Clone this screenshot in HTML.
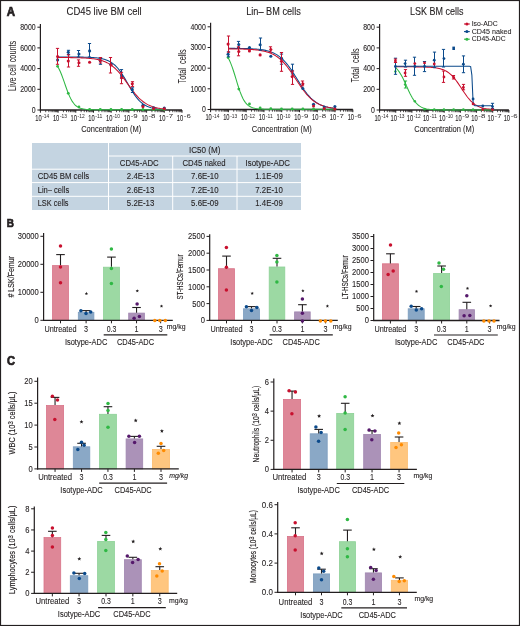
<!DOCTYPE html>
<html><head><meta charset="utf-8"><title>Figure</title>
<style>
html,body{margin:0;padding:0;background:#fff;width:520px;height:626px;overflow:hidden;}
svg{display:block;will-change:transform;}
text{font-family:"Liberation Sans",sans-serif;fill:#231f20;stroke:#231f20;stroke-width:0.1px;white-space:pre;}
</style></head><body>
<svg width="520" height="626" viewBox="0 0 520 626">
<rect x="0" y="0" width="520" height="626" fill="#ffffff"/>
<text x="6.8" y="15.6" font-size="12" textLength="8.3" lengthAdjust="spacingAndGlyphs" font-weight="bold" style="stroke-width:0.7px">A</text>
<line x1="40.4" y1="24" x2="40.4" y2="110.6" stroke="#231f20" stroke-width="1.2"/>
<line x1="37.4" y1="27.2" x2="40.4" y2="27.2" stroke="#231f20" stroke-width="1"/>
<text x="35.6" y="29.9" font-size="8.3" text-anchor="end" textLength="15.4" lengthAdjust="spacingAndGlyphs">8000</text>
<line x1="37.4" y1="47.9" x2="40.4" y2="47.9" stroke="#231f20" stroke-width="1"/>
<text x="35.6" y="50.6" font-size="8.3" text-anchor="end" textLength="15.4" lengthAdjust="spacingAndGlyphs">6000</text>
<line x1="37.4" y1="68.6" x2="40.4" y2="68.6" stroke="#231f20" stroke-width="1"/>
<text x="35.6" y="71.3" font-size="8.3" text-anchor="end" textLength="15.4" lengthAdjust="spacingAndGlyphs">4000</text>
<line x1="37.4" y1="89.3" x2="40.4" y2="89.3" stroke="#231f20" stroke-width="1"/>
<text x="35.6" y="92" font-size="8.3" text-anchor="end" textLength="15.4" lengthAdjust="spacingAndGlyphs">2000</text>
<line x1="37.4" y1="110" x2="40.4" y2="110" stroke="#231f20" stroke-width="1"/>
<text x="35.6" y="112.7" font-size="8.3" text-anchor="end" textLength="3.85" lengthAdjust="spacingAndGlyphs">0</text>
<line x1="39.8" y1="110" x2="182" y2="110" stroke="#231f20" stroke-width="1.3"/>
<line x1="40.4" y1="110" x2="40.4" y2="112.7" stroke="#231f20" stroke-width="1"/>
<line x1="45.73" y1="110" x2="45.73" y2="112.2" stroke="#231f20" stroke-width="0.8"/>
<line x1="48.85" y1="110" x2="48.85" y2="112.2" stroke="#231f20" stroke-width="0.8"/>
<line x1="51.06" y1="110" x2="51.06" y2="112.2" stroke="#231f20" stroke-width="0.8"/>
<line x1="52.77" y1="110" x2="52.77" y2="112.2" stroke="#231f20" stroke-width="0.8"/>
<line x1="54.17" y1="110" x2="54.17" y2="112.2" stroke="#231f20" stroke-width="0.8"/>
<line x1="55.36" y1="110" x2="55.36" y2="112.2" stroke="#231f20" stroke-width="0.8"/>
<line x1="56.38" y1="110" x2="56.38" y2="112.2" stroke="#231f20" stroke-width="0.8"/>
<line x1="57.29" y1="110" x2="57.29" y2="112.2" stroke="#231f20" stroke-width="0.8"/>
<text x="35.2" y="120.9" font-size="8.2" textLength="6.4" lengthAdjust="spacingAndGlyphs">10</text>
<text x="42.2" y="118.2" font-size="4.9" textLength="7.0" lengthAdjust="spacingAndGlyphs" style="stroke-width:0px">-14</text>
<line x1="58.1" y1="110" x2="58.1" y2="112.7" stroke="#231f20" stroke-width="1"/>
<line x1="63.43" y1="110" x2="63.43" y2="112.2" stroke="#231f20" stroke-width="0.8"/>
<line x1="66.55" y1="110" x2="66.55" y2="112.2" stroke="#231f20" stroke-width="0.8"/>
<line x1="68.76" y1="110" x2="68.76" y2="112.2" stroke="#231f20" stroke-width="0.8"/>
<line x1="70.47" y1="110" x2="70.47" y2="112.2" stroke="#231f20" stroke-width="0.8"/>
<line x1="71.87" y1="110" x2="71.87" y2="112.2" stroke="#231f20" stroke-width="0.8"/>
<line x1="73.06" y1="110" x2="73.06" y2="112.2" stroke="#231f20" stroke-width="0.8"/>
<line x1="74.08" y1="110" x2="74.08" y2="112.2" stroke="#231f20" stroke-width="0.8"/>
<line x1="74.99" y1="110" x2="74.99" y2="112.2" stroke="#231f20" stroke-width="0.8"/>
<text x="52.9" y="120.9" font-size="8.2" textLength="6.4" lengthAdjust="spacingAndGlyphs">10</text>
<text x="59.9" y="118.2" font-size="4.9" textLength="7.0" lengthAdjust="spacingAndGlyphs" style="stroke-width:0px">-13</text>
<line x1="75.8" y1="110" x2="75.8" y2="112.7" stroke="#231f20" stroke-width="1"/>
<line x1="81.13" y1="110" x2="81.13" y2="112.2" stroke="#231f20" stroke-width="0.8"/>
<line x1="84.25" y1="110" x2="84.25" y2="112.2" stroke="#231f20" stroke-width="0.8"/>
<line x1="86.46" y1="110" x2="86.46" y2="112.2" stroke="#231f20" stroke-width="0.8"/>
<line x1="88.17" y1="110" x2="88.17" y2="112.2" stroke="#231f20" stroke-width="0.8"/>
<line x1="89.57" y1="110" x2="89.57" y2="112.2" stroke="#231f20" stroke-width="0.8"/>
<line x1="90.76" y1="110" x2="90.76" y2="112.2" stroke="#231f20" stroke-width="0.8"/>
<line x1="91.78" y1="110" x2="91.78" y2="112.2" stroke="#231f20" stroke-width="0.8"/>
<line x1="92.69" y1="110" x2="92.69" y2="112.2" stroke="#231f20" stroke-width="0.8"/>
<text x="70.6" y="120.9" font-size="8.2" textLength="6.4" lengthAdjust="spacingAndGlyphs">10</text>
<text x="77.6" y="118.2" font-size="4.9" textLength="7.0" lengthAdjust="spacingAndGlyphs" style="stroke-width:0px">-12</text>
<line x1="93.5" y1="110" x2="93.5" y2="112.7" stroke="#231f20" stroke-width="1"/>
<line x1="98.83" y1="110" x2="98.83" y2="112.2" stroke="#231f20" stroke-width="0.8"/>
<line x1="101.95" y1="110" x2="101.95" y2="112.2" stroke="#231f20" stroke-width="0.8"/>
<line x1="104.16" y1="110" x2="104.16" y2="112.2" stroke="#231f20" stroke-width="0.8"/>
<line x1="105.87" y1="110" x2="105.87" y2="112.2" stroke="#231f20" stroke-width="0.8"/>
<line x1="107.27" y1="110" x2="107.27" y2="112.2" stroke="#231f20" stroke-width="0.8"/>
<line x1="108.46" y1="110" x2="108.46" y2="112.2" stroke="#231f20" stroke-width="0.8"/>
<line x1="109.48" y1="110" x2="109.48" y2="112.2" stroke="#231f20" stroke-width="0.8"/>
<line x1="110.39" y1="110" x2="110.39" y2="112.2" stroke="#231f20" stroke-width="0.8"/>
<text x="88.3" y="120.9" font-size="8.2" textLength="6.4" lengthAdjust="spacingAndGlyphs">10</text>
<text x="95.3" y="118.2" font-size="4.9" textLength="7.0" lengthAdjust="spacingAndGlyphs" style="stroke-width:0px">-11</text>
<line x1="111.2" y1="110" x2="111.2" y2="112.7" stroke="#231f20" stroke-width="1"/>
<line x1="116.53" y1="110" x2="116.53" y2="112.2" stroke="#231f20" stroke-width="0.8"/>
<line x1="119.65" y1="110" x2="119.65" y2="112.2" stroke="#231f20" stroke-width="0.8"/>
<line x1="121.86" y1="110" x2="121.86" y2="112.2" stroke="#231f20" stroke-width="0.8"/>
<line x1="123.57" y1="110" x2="123.57" y2="112.2" stroke="#231f20" stroke-width="0.8"/>
<line x1="124.97" y1="110" x2="124.97" y2="112.2" stroke="#231f20" stroke-width="0.8"/>
<line x1="126.16" y1="110" x2="126.16" y2="112.2" stroke="#231f20" stroke-width="0.8"/>
<line x1="127.18" y1="110" x2="127.18" y2="112.2" stroke="#231f20" stroke-width="0.8"/>
<line x1="128.09" y1="110" x2="128.09" y2="112.2" stroke="#231f20" stroke-width="0.8"/>
<text x="106" y="120.9" font-size="8.2" textLength="6.4" lengthAdjust="spacingAndGlyphs">10</text>
<text x="113" y="118.2" font-size="4.9" textLength="7.0" lengthAdjust="spacingAndGlyphs" style="stroke-width:0px">-10</text>
<line x1="128.9" y1="110" x2="128.9" y2="112.7" stroke="#231f20" stroke-width="1"/>
<line x1="134.23" y1="110" x2="134.23" y2="112.2" stroke="#231f20" stroke-width="0.8"/>
<line x1="137.35" y1="110" x2="137.35" y2="112.2" stroke="#231f20" stroke-width="0.8"/>
<line x1="139.56" y1="110" x2="139.56" y2="112.2" stroke="#231f20" stroke-width="0.8"/>
<line x1="141.27" y1="110" x2="141.27" y2="112.2" stroke="#231f20" stroke-width="0.8"/>
<line x1="142.67" y1="110" x2="142.67" y2="112.2" stroke="#231f20" stroke-width="0.8"/>
<line x1="143.86" y1="110" x2="143.86" y2="112.2" stroke="#231f20" stroke-width="0.8"/>
<line x1="144.88" y1="110" x2="144.88" y2="112.2" stroke="#231f20" stroke-width="0.8"/>
<line x1="145.79" y1="110" x2="145.79" y2="112.2" stroke="#231f20" stroke-width="0.8"/>
<text x="123.7" y="120.9" font-size="8.2" textLength="6.4" lengthAdjust="spacingAndGlyphs">10</text>
<text x="130.7" y="118.2" font-size="4.9" textLength="7.0" lengthAdjust="spacingAndGlyphs" style="stroke-width:0px">-9</text>
<line x1="146.6" y1="110" x2="146.6" y2="112.7" stroke="#231f20" stroke-width="1"/>
<line x1="151.93" y1="110" x2="151.93" y2="112.2" stroke="#231f20" stroke-width="0.8"/>
<line x1="155.05" y1="110" x2="155.05" y2="112.2" stroke="#231f20" stroke-width="0.8"/>
<line x1="157.26" y1="110" x2="157.26" y2="112.2" stroke="#231f20" stroke-width="0.8"/>
<line x1="158.97" y1="110" x2="158.97" y2="112.2" stroke="#231f20" stroke-width="0.8"/>
<line x1="160.37" y1="110" x2="160.37" y2="112.2" stroke="#231f20" stroke-width="0.8"/>
<line x1="161.56" y1="110" x2="161.56" y2="112.2" stroke="#231f20" stroke-width="0.8"/>
<line x1="162.58" y1="110" x2="162.58" y2="112.2" stroke="#231f20" stroke-width="0.8"/>
<line x1="163.49" y1="110" x2="163.49" y2="112.2" stroke="#231f20" stroke-width="0.8"/>
<text x="141.4" y="120.9" font-size="8.2" textLength="6.4" lengthAdjust="spacingAndGlyphs">10</text>
<text x="148.4" y="118.2" font-size="4.9" textLength="7.0" lengthAdjust="spacingAndGlyphs" style="stroke-width:0px">-8</text>
<line x1="164.3" y1="110" x2="164.3" y2="112.7" stroke="#231f20" stroke-width="1"/>
<line x1="169.63" y1="110" x2="169.63" y2="112.2" stroke="#231f20" stroke-width="0.8"/>
<line x1="172.75" y1="110" x2="172.75" y2="112.2" stroke="#231f20" stroke-width="0.8"/>
<line x1="174.96" y1="110" x2="174.96" y2="112.2" stroke="#231f20" stroke-width="0.8"/>
<line x1="176.67" y1="110" x2="176.67" y2="112.2" stroke="#231f20" stroke-width="0.8"/>
<line x1="178.07" y1="110" x2="178.07" y2="112.2" stroke="#231f20" stroke-width="0.8"/>
<line x1="179.26" y1="110" x2="179.26" y2="112.2" stroke="#231f20" stroke-width="0.8"/>
<line x1="180.28" y1="110" x2="180.28" y2="112.2" stroke="#231f20" stroke-width="0.8"/>
<line x1="181.19" y1="110" x2="181.19" y2="112.2" stroke="#231f20" stroke-width="0.8"/>
<text x="159.1" y="120.9" font-size="8.2" textLength="6.4" lengthAdjust="spacingAndGlyphs">10</text>
<text x="166.1" y="118.2" font-size="4.9" textLength="7.0" lengthAdjust="spacingAndGlyphs" style="stroke-width:0px">-7</text>
<line x1="182" y1="110" x2="182" y2="112.7" stroke="#231f20" stroke-width="1"/>
<text x="176.8" y="120.9" font-size="8.2" textLength="6.4" lengthAdjust="spacingAndGlyphs">10</text>
<text x="183.8" y="118.2" font-size="4.9" textLength="7.0" lengthAdjust="spacingAndGlyphs" style="stroke-width:0px">-6</text>
<text x="111.2" y="132.3" font-size="9.9" text-anchor="middle" textLength="60" lengthAdjust="spacingAndGlyphs">Concentration (M)</text>
<text x="104.15" y="14.7" font-size="10.1" text-anchor="middle" textLength="75.1" lengthAdjust="spacingAndGlyphs" style="stroke-width:0.1px">CD45 live BM cell</text>
<text x="0" y="0" font-size="10.5" text-anchor="middle" transform="translate(15.5 65.85) rotate(-90)" textLength="50.3" lengthAdjust="spacingAndGlyphs" style="stroke-width:0.02px">Live cell counts</text>
<path d="M57.6,57 L58.93,57.01 L60.27,57.01 L61.6,57.01 L62.94,57.01 L64.27,57.01 L65.6,57.01 L66.94,57.02 L68.27,57.02 L69.6,57.02 L70.94,57.03 L72.27,57.03 L73.61,57.04 L74.94,57.05 L76.27,57.06 L77.61,57.07 L78.94,57.08 L80.27,57.1 L81.61,57.12 L82.94,57.14 L84.28,57.17 L85.61,57.2 L86.94,57.24 L88.28,57.28 L89.61,57.34 L90.94,57.4 L92.28,57.48 L93.61,57.57 L94.95,57.68 L96.28,57.81 L97.61,57.96 L98.95,58.14 L100.28,58.36 L101.61,58.61 L102.95,58.91 L104.28,59.27 L105.62,59.69 L106.95,60.17 L108.28,60.75 L109.62,61.41 L110.95,62.18 L112.28,63.07 L113.62,64.09 L114.95,65.24 L116.29,66.55 L117.62,68.02 L118.95,69.64 L120.29,71.42 L121.62,73.35 L122.95,75.42 L124.29,77.6 L125.62,79.87 L126.96,82.19 L128.29,84.53 L129.62,86.86 L130.96,89.14 L132.29,91.33 L133.62,93.41 L134.96,95.36 L136.29,97.16 L137.62,98.8 L138.96,100.28 L140.29,101.61 L141.63,102.79 L142.96,103.82 L144.29,104.72 L145.63,105.51 L146.96,106.18 L148.3,106.76 L149.63,107.26 L150.96,107.69 L152.3,108.05 L153.63,108.35 L154.96,108.61 L156.3,108.83 L157.63,109.02 L158.97,109.18 L160.3,109.31 L161.63,109.42 L162.97,109.51 L164.3,109.59" fill="none" stroke="#0b4a8b" stroke-width="1.05"/>
<path d="M57.6,57.53 L58.93,57.53 L60.27,57.54 L61.6,57.54 L62.94,57.55 L64.27,57.56 L65.6,57.57 L66.94,57.58 L68.27,57.59 L69.6,57.6 L70.94,57.62 L72.27,57.64 L73.61,57.66 L74.94,57.68 L76.27,57.71 L77.61,57.74 L78.94,57.78 L80.27,57.82 L81.61,57.87 L82.94,57.93 L84.28,58 L85.61,58.07 L86.94,58.16 L88.28,58.26 L89.61,58.38 L90.94,58.51 L92.28,58.66 L93.61,58.83 L94.95,59.03 L96.28,59.26 L97.61,59.52 L98.95,59.82 L100.28,60.16 L101.61,60.54 L102.95,60.98 L104.28,61.47 L105.62,62.03 L106.95,62.66 L108.28,63.37 L109.62,64.15 L110.95,65.03 L112.28,66 L113.62,67.07 L114.95,68.24 L116.29,69.52 L117.62,70.9 L118.95,72.37 L120.29,73.95 L121.62,75.6 L122.95,77.34 L124.29,79.13 L125.62,80.97 L126.96,82.84 L128.29,84.72 L129.62,86.59 L130.96,88.43 L132.29,90.22 L133.62,91.95 L134.96,93.61 L136.29,95.18 L137.62,96.65 L138.96,98.02 L140.29,99.3 L141.63,100.46 L142.96,101.53 L144.29,102.5 L145.63,103.37 L146.96,104.16 L148.3,104.86 L149.63,105.49 L150.96,106.04 L152.3,106.54 L153.63,106.97 L154.96,107.36 L156.3,107.69 L157.63,107.99 L158.97,108.25 L160.3,108.48 L161.63,108.67 L162.97,108.85 L164.3,109" fill="none" stroke="#c8102e" stroke-width="1.05"/>
<path d="M57.6,66.34 L58.93,68.72 L60.27,71.54 L61.6,74.77 L62.94,78.33 L64.27,82.12 L65.6,85.96 L66.94,89.71 L68.27,93.22 L69.6,96.37 L70.94,99.1 L72.27,101.39 L73.61,103.27 L74.94,104.78 L76.27,105.97 L77.61,106.89 L78.94,107.6 L80.27,108.15 L81.61,108.56 L82.94,108.87 L84.28,109.1 L85.61,109.28 L86.94,109.41 L88.28,109.51 L89.61,109.58 L90.94,109.64 L92.28,109.68 L93.61,109.71 L94.95,109.73 L96.28,109.75 L97.61,109.76 L98.95,109.77 L100.28,109.78 L101.61,109.78 L102.95,109.79 L104.28,109.79 L105.62,109.79 L106.95,109.8 L108.28,109.8 L109.62,109.8 L110.95,109.8 L112.28,109.8 L113.62,109.8 L114.95,109.8 L116.29,109.8 L117.62,109.8 L118.95,109.8 L120.29,109.8 L121.62,109.8 L122.95,109.8 L124.29,109.8 L125.62,109.8 L126.96,109.8 L128.29,109.8 L129.62,109.8 L130.96,109.8 L132.29,109.8 L133.62,109.8 L134.96,109.8 L136.29,109.8 L137.62,109.8 L138.96,109.8 L140.29,109.8 L141.63,109.8 L142.96,109.8 L144.29,109.8 L145.63,109.8 L146.96,109.8 L148.3,109.8 L149.63,109.8 L150.96,109.8 L152.3,109.8 L153.63,109.8 L154.96,109.8 L156.3,109.8 L157.63,109.8 L158.97,109.8 L160.3,109.8 L161.63,109.8 L162.97,109.8 L164.3,109.8" fill="none" stroke="#2fb844" stroke-width="1.05"/>
<circle cx="57.6" cy="66.3" r="1.4" fill="#2fb844"/>
<circle cx="68.27" cy="93.3" r="1.4" fill="#2fb844"/>
<circle cx="78.94" cy="107" r="1.4" fill="#2fb844"/>
<circle cx="89.61" cy="109.3" r="1.4" fill="#2fb844"/>
<circle cx="100.28" cy="109.5" r="1.4" fill="#2fb844"/>
<circle cx="110.95" cy="109.5" r="1.4" fill="#2fb844"/>
<circle cx="121.62" cy="109.5" r="1.4" fill="#2fb844"/>
<circle cx="132.29" cy="109.5" r="1.4" fill="#2fb844"/>
<circle cx="142.96" cy="109.5" r="1.4" fill="#2fb844"/>
<circle cx="153.63" cy="109.5" r="1.4" fill="#2fb844"/>
<circle cx="164.3" cy="109.5" r="1.4" fill="#2fb844"/>
<circle cx="57.6" cy="59.9" r="1.55" fill="#0b4a8b"/>
<line x1="68.5" y1="50.3" x2="68.5" y2="54.5" stroke="#0b4a8b" stroke-width="1"/>
<line x1="66.9" y1="50.3" x2="70.1" y2="50.3" stroke="#0b4a8b" stroke-width="1"/>
<line x1="66.9" y1="54.5" x2="70.1" y2="54.5" stroke="#0b4a8b" stroke-width="1"/>
<circle cx="68.27" cy="52.2" r="1.55" fill="#0b4a8b"/>
<line x1="78.5" y1="50.5" x2="78.5" y2="57" stroke="#0b4a8b" stroke-width="1"/>
<line x1="76.9" y1="50.5" x2="80.1" y2="50.5" stroke="#0b4a8b" stroke-width="1"/>
<line x1="76.9" y1="57" x2="80.1" y2="57" stroke="#0b4a8b" stroke-width="1"/>
<circle cx="78.94" cy="54" r="1.55" fill="#0b4a8b"/>
<line x1="89.5" y1="43.5" x2="89.5" y2="57" stroke="#0b4a8b" stroke-width="1"/>
<line x1="87.9" y1="43.5" x2="91.1" y2="43.5" stroke="#0b4a8b" stroke-width="1"/>
<line x1="87.9" y1="57" x2="91.1" y2="57" stroke="#0b4a8b" stroke-width="1"/>
<circle cx="89.61" cy="50.9" r="1.55" fill="#0b4a8b"/>
<line x1="100.5" y1="57.6" x2="100.5" y2="64.3" stroke="#0b4a8b" stroke-width="1"/>
<line x1="98.9" y1="57.6" x2="102.1" y2="57.6" stroke="#0b4a8b" stroke-width="1"/>
<line x1="98.9" y1="64.3" x2="102.1" y2="64.3" stroke="#0b4a8b" stroke-width="1"/>
<circle cx="100.28" cy="60.7" r="1.55" fill="#0b4a8b"/>
<circle cx="110.95" cy="64.2" r="1.55" fill="#0b4a8b"/>
<line x1="121.5" y1="69.6" x2="121.5" y2="78" stroke="#0b4a8b" stroke-width="1"/>
<line x1="119.9" y1="69.6" x2="123.1" y2="69.6" stroke="#0b4a8b" stroke-width="1"/>
<line x1="119.9" y1="78" x2="123.1" y2="78" stroke="#0b4a8b" stroke-width="1"/>
<circle cx="121.62" cy="75.7" r="1.55" fill="#0b4a8b"/>
<line x1="132.5" y1="87.8" x2="132.5" y2="92.5" stroke="#0b4a8b" stroke-width="1"/>
<line x1="130.9" y1="87.8" x2="134.1" y2="87.8" stroke="#0b4a8b" stroke-width="1"/>
<line x1="130.9" y1="92.5" x2="134.1" y2="92.5" stroke="#0b4a8b" stroke-width="1"/>
<circle cx="132.29" cy="89.8" r="1.55" fill="#0b4a8b"/>
<circle cx="142.96" cy="105.3" r="1.55" fill="#0b4a8b"/>
<circle cx="153.63" cy="107.8" r="1.55" fill="#0b4a8b"/>
<circle cx="164.3" cy="108" r="1.55" fill="#0b4a8b"/>
<line x1="57.5" y1="48.4" x2="57.5" y2="64.3" stroke="#c8102e" stroke-width="1"/>
<line x1="55.9" y1="48.4" x2="59.1" y2="48.4" stroke="#c8102e" stroke-width="1"/>
<line x1="55.9" y1="64.3" x2="59.1" y2="64.3" stroke="#c8102e" stroke-width="1"/>
<circle cx="57.6" cy="56.5" r="1.55" fill="#c8102e"/>
<line x1="68.5" y1="54.9" x2="68.5" y2="67" stroke="#c8102e" stroke-width="1"/>
<line x1="66.9" y1="54.9" x2="70.1" y2="54.9" stroke="#c8102e" stroke-width="1"/>
<line x1="66.9" y1="67" x2="70.1" y2="67" stroke="#c8102e" stroke-width="1"/>
<circle cx="68.27" cy="61" r="1.55" fill="#c8102e"/>
<line x1="78.5" y1="59.9" x2="78.5" y2="66.3" stroke="#c8102e" stroke-width="1"/>
<line x1="76.9" y1="59.9" x2="80.1" y2="59.9" stroke="#c8102e" stroke-width="1"/>
<line x1="76.9" y1="66.3" x2="80.1" y2="66.3" stroke="#c8102e" stroke-width="1"/>
<circle cx="78.94" cy="62.7" r="1.55" fill="#c8102e"/>
<circle cx="89.61" cy="62.3" r="1.55" fill="#c8102e"/>
<line x1="100.5" y1="57.6" x2="100.5" y2="63" stroke="#c8102e" stroke-width="1"/>
<line x1="98.9" y1="57.6" x2="102.1" y2="57.6" stroke="#c8102e" stroke-width="1"/>
<line x1="98.9" y1="63" x2="102.1" y2="63" stroke="#c8102e" stroke-width="1"/>
<circle cx="100.28" cy="60.3" r="1.55" fill="#c8102e"/>
<line x1="110.5" y1="57.5" x2="110.5" y2="73" stroke="#c8102e" stroke-width="1"/>
<line x1="108.9" y1="57.5" x2="112.1" y2="57.5" stroke="#c8102e" stroke-width="1"/>
<line x1="108.9" y1="73" x2="112.1" y2="73" stroke="#c8102e" stroke-width="1"/>
<circle cx="110.95" cy="64.9" r="1.55" fill="#c8102e"/>
<line x1="121.5" y1="72.3" x2="121.5" y2="83.7" stroke="#c8102e" stroke-width="1"/>
<line x1="119.9" y1="72.3" x2="123.1" y2="72.3" stroke="#c8102e" stroke-width="1"/>
<line x1="119.9" y1="83.7" x2="123.1" y2="83.7" stroke="#c8102e" stroke-width="1"/>
<circle cx="121.62" cy="77.7" r="1.55" fill="#c8102e"/>
<line x1="132.5" y1="81.7" x2="132.5" y2="86.4" stroke="#c8102e" stroke-width="1"/>
<line x1="130.9" y1="81.7" x2="134.1" y2="81.7" stroke="#c8102e" stroke-width="1"/>
<line x1="130.9" y1="86.4" x2="134.1" y2="86.4" stroke="#c8102e" stroke-width="1"/>
<circle cx="132.29" cy="83.7" r="1.55" fill="#c8102e"/>
<circle cx="142.96" cy="106.6" r="1.55" fill="#c8102e"/>
<circle cx="153.63" cy="108.6" r="1.55" fill="#c8102e"/>
<circle cx="164.3" cy="108.8" r="1.55" fill="#c8102e"/>
<line x1="210.6" y1="22.8" x2="210.6" y2="110.1" stroke="#231f20" stroke-width="1.2"/>
<line x1="207.6" y1="26.8" x2="210.6" y2="26.8" stroke="#231f20" stroke-width="1"/>
<text x="205.8" y="29.5" font-size="8.3" text-anchor="end" textLength="15.4" lengthAdjust="spacingAndGlyphs">4000</text>
<line x1="207.6" y1="47.5" x2="210.6" y2="47.5" stroke="#231f20" stroke-width="1"/>
<text x="205.8" y="50.2" font-size="8.3" text-anchor="end" textLength="15.4" lengthAdjust="spacingAndGlyphs">3000</text>
<line x1="207.6" y1="68.2" x2="210.6" y2="68.2" stroke="#231f20" stroke-width="1"/>
<text x="205.8" y="70.9" font-size="8.3" text-anchor="end" textLength="15.4" lengthAdjust="spacingAndGlyphs">2000</text>
<line x1="207.6" y1="88.8" x2="210.6" y2="88.8" stroke="#231f20" stroke-width="1"/>
<text x="205.8" y="91.5" font-size="8.3" text-anchor="end" textLength="15.4" lengthAdjust="spacingAndGlyphs">1000</text>
<line x1="207.6" y1="109.5" x2="210.6" y2="109.5" stroke="#231f20" stroke-width="1"/>
<text x="205.8" y="112.2" font-size="8.3" text-anchor="end" textLength="3.85" lengthAdjust="spacingAndGlyphs">0</text>
<line x1="210" y1="109.5" x2="352.84" y2="109.5" stroke="#231f20" stroke-width="1.3"/>
<line x1="210.6" y1="109.5" x2="210.6" y2="112.2" stroke="#231f20" stroke-width="1"/>
<line x1="215.95" y1="109.5" x2="215.95" y2="111.7" stroke="#231f20" stroke-width="0.8"/>
<line x1="219.08" y1="109.5" x2="219.08" y2="111.7" stroke="#231f20" stroke-width="0.8"/>
<line x1="221.3" y1="109.5" x2="221.3" y2="111.7" stroke="#231f20" stroke-width="0.8"/>
<line x1="223.03" y1="109.5" x2="223.03" y2="111.7" stroke="#231f20" stroke-width="0.8"/>
<line x1="224.44" y1="109.5" x2="224.44" y2="111.7" stroke="#231f20" stroke-width="0.8"/>
<line x1="225.63" y1="109.5" x2="225.63" y2="111.7" stroke="#231f20" stroke-width="0.8"/>
<line x1="226.66" y1="109.5" x2="226.66" y2="111.7" stroke="#231f20" stroke-width="0.8"/>
<line x1="227.57" y1="109.5" x2="227.57" y2="111.7" stroke="#231f20" stroke-width="0.8"/>
<text x="205.4" y="120.4" font-size="8.2" textLength="6.4" lengthAdjust="spacingAndGlyphs">10</text>
<text x="212.4" y="117.7" font-size="4.9" textLength="7.0" lengthAdjust="spacingAndGlyphs" style="stroke-width:0px">-14</text>
<line x1="228.38" y1="109.5" x2="228.38" y2="112.2" stroke="#231f20" stroke-width="1"/>
<line x1="233.73" y1="109.5" x2="233.73" y2="111.7" stroke="#231f20" stroke-width="0.8"/>
<line x1="236.86" y1="109.5" x2="236.86" y2="111.7" stroke="#231f20" stroke-width="0.8"/>
<line x1="239.08" y1="109.5" x2="239.08" y2="111.7" stroke="#231f20" stroke-width="0.8"/>
<line x1="240.81" y1="109.5" x2="240.81" y2="111.7" stroke="#231f20" stroke-width="0.8"/>
<line x1="242.22" y1="109.5" x2="242.22" y2="111.7" stroke="#231f20" stroke-width="0.8"/>
<line x1="243.41" y1="109.5" x2="243.41" y2="111.7" stroke="#231f20" stroke-width="0.8"/>
<line x1="244.44" y1="109.5" x2="244.44" y2="111.7" stroke="#231f20" stroke-width="0.8"/>
<line x1="245.35" y1="109.5" x2="245.35" y2="111.7" stroke="#231f20" stroke-width="0.8"/>
<text x="223.18" y="120.4" font-size="8.2" textLength="6.4" lengthAdjust="spacingAndGlyphs">10</text>
<text x="230.18" y="117.7" font-size="4.9" textLength="7.0" lengthAdjust="spacingAndGlyphs" style="stroke-width:0px">-13</text>
<line x1="246.16" y1="109.5" x2="246.16" y2="112.2" stroke="#231f20" stroke-width="1"/>
<line x1="251.51" y1="109.5" x2="251.51" y2="111.7" stroke="#231f20" stroke-width="0.8"/>
<line x1="254.64" y1="109.5" x2="254.64" y2="111.7" stroke="#231f20" stroke-width="0.8"/>
<line x1="256.86" y1="109.5" x2="256.86" y2="111.7" stroke="#231f20" stroke-width="0.8"/>
<line x1="258.59" y1="109.5" x2="258.59" y2="111.7" stroke="#231f20" stroke-width="0.8"/>
<line x1="260" y1="109.5" x2="260" y2="111.7" stroke="#231f20" stroke-width="0.8"/>
<line x1="261.19" y1="109.5" x2="261.19" y2="111.7" stroke="#231f20" stroke-width="0.8"/>
<line x1="262.22" y1="109.5" x2="262.22" y2="111.7" stroke="#231f20" stroke-width="0.8"/>
<line x1="263.13" y1="109.5" x2="263.13" y2="111.7" stroke="#231f20" stroke-width="0.8"/>
<text x="240.96" y="120.4" font-size="8.2" textLength="6.4" lengthAdjust="spacingAndGlyphs">10</text>
<text x="247.96" y="117.7" font-size="4.9" textLength="7.0" lengthAdjust="spacingAndGlyphs" style="stroke-width:0px">-12</text>
<line x1="263.94" y1="109.5" x2="263.94" y2="112.2" stroke="#231f20" stroke-width="1"/>
<line x1="269.29" y1="109.5" x2="269.29" y2="111.7" stroke="#231f20" stroke-width="0.8"/>
<line x1="272.42" y1="109.5" x2="272.42" y2="111.7" stroke="#231f20" stroke-width="0.8"/>
<line x1="274.64" y1="109.5" x2="274.64" y2="111.7" stroke="#231f20" stroke-width="0.8"/>
<line x1="276.37" y1="109.5" x2="276.37" y2="111.7" stroke="#231f20" stroke-width="0.8"/>
<line x1="277.78" y1="109.5" x2="277.78" y2="111.7" stroke="#231f20" stroke-width="0.8"/>
<line x1="278.97" y1="109.5" x2="278.97" y2="111.7" stroke="#231f20" stroke-width="0.8"/>
<line x1="280" y1="109.5" x2="280" y2="111.7" stroke="#231f20" stroke-width="0.8"/>
<line x1="280.91" y1="109.5" x2="280.91" y2="111.7" stroke="#231f20" stroke-width="0.8"/>
<text x="258.74" y="120.4" font-size="8.2" textLength="6.4" lengthAdjust="spacingAndGlyphs">10</text>
<text x="265.74" y="117.7" font-size="4.9" textLength="7.0" lengthAdjust="spacingAndGlyphs" style="stroke-width:0px">-11</text>
<line x1="281.72" y1="109.5" x2="281.72" y2="112.2" stroke="#231f20" stroke-width="1"/>
<line x1="287.07" y1="109.5" x2="287.07" y2="111.7" stroke="#231f20" stroke-width="0.8"/>
<line x1="290.2" y1="109.5" x2="290.2" y2="111.7" stroke="#231f20" stroke-width="0.8"/>
<line x1="292.42" y1="109.5" x2="292.42" y2="111.7" stroke="#231f20" stroke-width="0.8"/>
<line x1="294.15" y1="109.5" x2="294.15" y2="111.7" stroke="#231f20" stroke-width="0.8"/>
<line x1="295.56" y1="109.5" x2="295.56" y2="111.7" stroke="#231f20" stroke-width="0.8"/>
<line x1="296.75" y1="109.5" x2="296.75" y2="111.7" stroke="#231f20" stroke-width="0.8"/>
<line x1="297.78" y1="109.5" x2="297.78" y2="111.7" stroke="#231f20" stroke-width="0.8"/>
<line x1="298.69" y1="109.5" x2="298.69" y2="111.7" stroke="#231f20" stroke-width="0.8"/>
<text x="276.52" y="120.4" font-size="8.2" textLength="6.4" lengthAdjust="spacingAndGlyphs">10</text>
<text x="283.52" y="117.7" font-size="4.9" textLength="7.0" lengthAdjust="spacingAndGlyphs" style="stroke-width:0px">-10</text>
<line x1="299.5" y1="109.5" x2="299.5" y2="112.2" stroke="#231f20" stroke-width="1"/>
<line x1="304.85" y1="109.5" x2="304.85" y2="111.7" stroke="#231f20" stroke-width="0.8"/>
<line x1="307.98" y1="109.5" x2="307.98" y2="111.7" stroke="#231f20" stroke-width="0.8"/>
<line x1="310.2" y1="109.5" x2="310.2" y2="111.7" stroke="#231f20" stroke-width="0.8"/>
<line x1="311.93" y1="109.5" x2="311.93" y2="111.7" stroke="#231f20" stroke-width="0.8"/>
<line x1="313.34" y1="109.5" x2="313.34" y2="111.7" stroke="#231f20" stroke-width="0.8"/>
<line x1="314.53" y1="109.5" x2="314.53" y2="111.7" stroke="#231f20" stroke-width="0.8"/>
<line x1="315.56" y1="109.5" x2="315.56" y2="111.7" stroke="#231f20" stroke-width="0.8"/>
<line x1="316.47" y1="109.5" x2="316.47" y2="111.7" stroke="#231f20" stroke-width="0.8"/>
<text x="294.3" y="120.4" font-size="8.2" textLength="6.4" lengthAdjust="spacingAndGlyphs">10</text>
<text x="301.3" y="117.7" font-size="4.9" textLength="7.0" lengthAdjust="spacingAndGlyphs" style="stroke-width:0px">-9</text>
<line x1="317.28" y1="109.5" x2="317.28" y2="112.2" stroke="#231f20" stroke-width="1"/>
<line x1="322.63" y1="109.5" x2="322.63" y2="111.7" stroke="#231f20" stroke-width="0.8"/>
<line x1="325.76" y1="109.5" x2="325.76" y2="111.7" stroke="#231f20" stroke-width="0.8"/>
<line x1="327.98" y1="109.5" x2="327.98" y2="111.7" stroke="#231f20" stroke-width="0.8"/>
<line x1="329.71" y1="109.5" x2="329.71" y2="111.7" stroke="#231f20" stroke-width="0.8"/>
<line x1="331.12" y1="109.5" x2="331.12" y2="111.7" stroke="#231f20" stroke-width="0.8"/>
<line x1="332.31" y1="109.5" x2="332.31" y2="111.7" stroke="#231f20" stroke-width="0.8"/>
<line x1="333.34" y1="109.5" x2="333.34" y2="111.7" stroke="#231f20" stroke-width="0.8"/>
<line x1="334.25" y1="109.5" x2="334.25" y2="111.7" stroke="#231f20" stroke-width="0.8"/>
<text x="312.08" y="120.4" font-size="8.2" textLength="6.4" lengthAdjust="spacingAndGlyphs">10</text>
<text x="319.08" y="117.7" font-size="4.9" textLength="7.0" lengthAdjust="spacingAndGlyphs" style="stroke-width:0px">-8</text>
<line x1="335.06" y1="109.5" x2="335.06" y2="112.2" stroke="#231f20" stroke-width="1"/>
<line x1="340.41" y1="109.5" x2="340.41" y2="111.7" stroke="#231f20" stroke-width="0.8"/>
<line x1="343.54" y1="109.5" x2="343.54" y2="111.7" stroke="#231f20" stroke-width="0.8"/>
<line x1="345.76" y1="109.5" x2="345.76" y2="111.7" stroke="#231f20" stroke-width="0.8"/>
<line x1="347.49" y1="109.5" x2="347.49" y2="111.7" stroke="#231f20" stroke-width="0.8"/>
<line x1="348.9" y1="109.5" x2="348.9" y2="111.7" stroke="#231f20" stroke-width="0.8"/>
<line x1="350.09" y1="109.5" x2="350.09" y2="111.7" stroke="#231f20" stroke-width="0.8"/>
<line x1="351.12" y1="109.5" x2="351.12" y2="111.7" stroke="#231f20" stroke-width="0.8"/>
<line x1="352.03" y1="109.5" x2="352.03" y2="111.7" stroke="#231f20" stroke-width="0.8"/>
<text x="329.86" y="120.4" font-size="8.2" textLength="6.4" lengthAdjust="spacingAndGlyphs">10</text>
<text x="336.86" y="117.7" font-size="4.9" textLength="7.0" lengthAdjust="spacingAndGlyphs" style="stroke-width:0px">-7</text>
<line x1="352.84" y1="109.5" x2="352.84" y2="112.2" stroke="#231f20" stroke-width="1"/>
<text x="347.64" y="120.4" font-size="8.2" textLength="6.4" lengthAdjust="spacingAndGlyphs">10</text>
<text x="354.64" y="117.7" font-size="4.9" textLength="7.0" lengthAdjust="spacingAndGlyphs" style="stroke-width:0px">-6</text>
<text x="281.72" y="131.8" font-size="9.9" text-anchor="middle" textLength="60" lengthAdjust="spacingAndGlyphs">Concentration (M)</text>
<text x="273.5" y="14.9" font-size="10.1" text-anchor="middle" textLength="54.6" lengthAdjust="spacingAndGlyphs" style="stroke-width:0.1px">Lin– BM cells</text>
<text x="0" y="0" font-size="10.5" text-anchor="middle" transform="translate(185.7 66.4) rotate(-90)" textLength="34" lengthAdjust="spacingAndGlyphs" style="stroke-width:0.02px">Total  cells</text>
<path d="M228.1,48.34 L229.44,48.35 L230.77,48.35 L232.1,48.36 L233.44,48.37 L234.78,48.38 L236.11,48.4 L237.44,48.41 L238.78,48.43 L240.11,48.45 L241.45,48.47 L242.78,48.49 L244.12,48.52 L245.45,48.56 L246.79,48.59 L248.12,48.64 L249.46,48.69 L250.79,48.75 L252.13,48.82 L253.46,48.9 L254.8,48.98 L256.13,49.09 L257.47,49.21 L258.81,49.34 L260.14,49.5 L261.47,49.68 L262.81,49.88 L264.14,50.11 L265.48,50.38 L266.81,50.68 L268.15,51.03 L269.49,51.43 L270.82,51.87 L272.15,52.38 L273.49,52.96 L274.82,53.6 L276.16,54.33 L277.5,55.15 L278.83,56.06 L280.16,57.07 L281.5,58.19 L282.83,59.43 L284.17,60.78 L285.5,62.24 L286.84,63.83 L288.17,65.53 L289.51,67.33 L290.84,69.24 L292.18,71.24 L293.51,73.3 L294.85,75.42 L296.19,77.58 L297.52,79.74 L298.85,81.9 L300.19,84.03 L301.52,86.11 L302.86,88.13 L304.19,90.05 L305.53,91.88 L306.87,93.61 L308.2,95.22 L309.53,96.71 L310.87,98.09 L312.2,99.34 L313.54,100.49 L314.88,101.52 L316.21,102.46 L317.54,103.29 L318.88,104.04 L320.21,104.71 L321.55,105.3 L322.88,105.82 L324.22,106.28 L325.55,106.69 L326.89,107.04 L328.22,107.36 L329.56,107.63 L330.89,107.87 L332.23,108.08 L333.56,108.27 L334.9,108.43" fill="none" stroke="#0b4a8b" stroke-width="1.05"/>
<path d="M228.1,48.86 L229.44,48.87 L230.77,48.89 L232.1,48.9 L233.44,48.91 L234.78,48.93 L236.11,48.95 L237.44,48.97 L238.78,48.99 L240.11,49.02 L241.45,49.05 L242.78,49.09 L244.12,49.13 L245.45,49.17 L246.79,49.23 L248.12,49.29 L249.46,49.36 L250.79,49.44 L252.13,49.53 L253.46,49.63 L254.8,49.75 L256.13,49.88 L257.47,50.04 L258.81,50.21 L260.14,50.41 L261.47,50.64 L262.81,50.89 L264.14,51.18 L265.48,51.51 L266.81,51.88 L268.15,52.3 L269.49,52.78 L270.82,53.31 L272.15,53.9 L273.49,54.57 L274.82,55.31 L276.16,56.14 L277.5,57.05 L278.83,58.06 L280.16,59.17 L281.5,60.38 L282.83,61.7 L284.17,63.12 L285.5,64.65 L286.84,66.28 L288.17,68.01 L289.51,69.82 L290.84,71.71 L292.18,73.66 L293.51,75.66 L294.85,77.69 L296.19,79.74 L297.52,81.78 L298.85,83.8 L300.19,85.77 L301.52,87.69 L302.86,89.54 L304.19,91.3 L305.53,92.97 L306.87,94.54 L308.2,96.01 L309.53,97.37 L310.87,98.63 L312.2,99.78 L313.54,100.83 L314.88,101.78 L316.21,102.65 L317.54,103.43 L318.88,104.12 L320.21,104.75 L321.55,105.31 L322.88,105.8 L324.22,106.25 L325.55,106.64 L326.89,106.98 L328.22,107.29 L329.56,107.56 L330.89,107.8 L332.23,108.01 L333.56,108.19 L334.9,108.35" fill="none" stroke="#c8102e" stroke-width="1.05"/>
<path d="M228.1,57.84 L229.44,60.34 L230.77,63.33 L232.1,66.82 L233.44,70.74 L234.78,75 L236.11,79.42 L237.44,83.82 L238.78,88.03 L240.11,91.89 L241.45,95.29 L242.78,98.21 L244.12,100.63 L245.45,102.59 L246.79,104.15 L248.12,105.38 L249.46,106.33 L250.79,107.06 L252.13,107.61 L253.46,108.03 L254.8,108.35 L256.13,108.59 L257.47,108.77 L258.81,108.9 L260.14,109 L261.47,109.08 L262.81,109.14 L264.14,109.18 L265.48,109.21 L266.81,109.23 L268.15,109.25 L269.49,109.26 L270.82,109.27 L272.15,109.28 L273.49,109.28 L274.82,109.29 L276.16,109.29 L277.5,109.29 L278.83,109.3 L280.16,109.3 L281.5,109.3 L282.83,109.3 L284.17,109.3 L285.5,109.3 L286.84,109.3 L288.17,109.3 L289.51,109.3 L290.84,109.3 L292.18,109.3 L293.51,109.3 L294.85,109.3 L296.19,109.3 L297.52,109.3 L298.85,109.3 L300.19,109.3 L301.52,109.3 L302.86,109.3 L304.19,109.3 L305.53,109.3 L306.87,109.3 L308.2,109.3 L309.53,109.3 L310.87,109.3 L312.2,109.3 L313.54,109.3 L314.88,109.3 L316.21,109.3 L317.54,109.3 L318.88,109.3 L320.21,109.3 L321.55,109.3 L322.88,109.3 L324.22,109.3 L325.55,109.3 L326.89,109.3 L328.22,109.3 L329.56,109.3 L330.89,109.3 L332.23,109.3 L333.56,109.3 L334.9,109.3" fill="none" stroke="#2fb844" stroke-width="1.05"/>
<circle cx="228.1" cy="57.6" r="1.4" fill="#2fb844"/>
<circle cx="238.78" cy="89.1" r="1.4" fill="#2fb844"/>
<circle cx="249.46" cy="104" r="1.4" fill="#2fb844"/>
<circle cx="260.14" cy="107.9" r="1.4" fill="#2fb844"/>
<circle cx="270.82" cy="108.7" r="1.4" fill="#2fb844"/>
<circle cx="281.5" cy="109" r="1.4" fill="#2fb844"/>
<circle cx="292.18" cy="109" r="1.4" fill="#2fb844"/>
<circle cx="302.86" cy="109" r="1.4" fill="#2fb844"/>
<circle cx="313.54" cy="109" r="1.4" fill="#2fb844"/>
<circle cx="324.22" cy="109" r="1.4" fill="#2fb844"/>
<circle cx="334.9" cy="109" r="1.4" fill="#2fb844"/>
<line x1="228.5" y1="51.8" x2="228.5" y2="56.8" stroke="#0b4a8b" stroke-width="1"/>
<line x1="226.9" y1="51.8" x2="230.1" y2="51.8" stroke="#0b4a8b" stroke-width="1"/>
<line x1="226.9" y1="56.8" x2="230.1" y2="56.8" stroke="#0b4a8b" stroke-width="1"/>
<circle cx="228.1" cy="54.2" r="1.55" fill="#0b4a8b"/>
<line x1="238.5" y1="41.4" x2="238.5" y2="47.5" stroke="#0b4a8b" stroke-width="1"/>
<line x1="236.9" y1="41.4" x2="240.1" y2="41.4" stroke="#0b4a8b" stroke-width="1"/>
<line x1="236.9" y1="47.5" x2="240.1" y2="47.5" stroke="#0b4a8b" stroke-width="1"/>
<circle cx="238.78" cy="44.5" r="1.55" fill="#0b4a8b"/>
<circle cx="249.46" cy="47.5" r="1.55" fill="#0b4a8b"/>
<line x1="260.5" y1="38" x2="260.5" y2="50.2" stroke="#0b4a8b" stroke-width="1"/>
<line x1="258.9" y1="38" x2="262.1" y2="38" stroke="#0b4a8b" stroke-width="1"/>
<line x1="258.9" y1="50.2" x2="262.1" y2="50.2" stroke="#0b4a8b" stroke-width="1"/>
<circle cx="260.14" cy="44.8" r="1.55" fill="#0b4a8b"/>
<circle cx="270.82" cy="56.2" r="1.55" fill="#0b4a8b"/>
<line x1="281.5" y1="54.1" x2="281.5" y2="64.2" stroke="#0b4a8b" stroke-width="1"/>
<line x1="279.9" y1="54.1" x2="283.1" y2="54.1" stroke="#0b4a8b" stroke-width="1"/>
<line x1="279.9" y1="64.2" x2="283.1" y2="64.2" stroke="#0b4a8b" stroke-width="1"/>
<circle cx="281.5" cy="58.2" r="1.55" fill="#0b4a8b"/>
<line x1="292.5" y1="64.2" x2="292.5" y2="74" stroke="#0b4a8b" stroke-width="1"/>
<line x1="290.9" y1="64.2" x2="294.1" y2="64.2" stroke="#0b4a8b" stroke-width="1"/>
<line x1="290.9" y1="74" x2="294.1" y2="74" stroke="#0b4a8b" stroke-width="1"/>
<circle cx="292.18" cy="70.7" r="1.55" fill="#0b4a8b"/>
<circle cx="302.86" cy="88.5" r="1.55" fill="#0b4a8b"/>
<circle cx="313.54" cy="104.3" r="1.55" fill="#0b4a8b"/>
<circle cx="324.22" cy="107" r="1.55" fill="#0b4a8b"/>
<circle cx="334.9" cy="106.6" r="1.55" fill="#0b4a8b"/>
<line x1="228.5" y1="36" x2="228.5" y2="52.2" stroke="#c8102e" stroke-width="1"/>
<line x1="226.9" y1="36" x2="230.1" y2="36" stroke="#c8102e" stroke-width="1"/>
<line x1="226.9" y1="52.2" x2="230.1" y2="52.2" stroke="#c8102e" stroke-width="1"/>
<circle cx="228.1" cy="44.1" r="1.55" fill="#c8102e"/>
<line x1="238.5" y1="46.8" x2="238.5" y2="55.8" stroke="#c8102e" stroke-width="1"/>
<line x1="236.9" y1="46.8" x2="240.1" y2="46.8" stroke="#c8102e" stroke-width="1"/>
<line x1="236.9" y1="55.8" x2="240.1" y2="55.8" stroke="#c8102e" stroke-width="1"/>
<circle cx="238.78" cy="51.5" r="1.55" fill="#c8102e"/>
<circle cx="249.46" cy="50.9" r="1.55" fill="#c8102e"/>
<circle cx="260.14" cy="54.9" r="1.55" fill="#c8102e"/>
<line x1="270.5" y1="46.8" x2="270.5" y2="52.2" stroke="#c8102e" stroke-width="1"/>
<line x1="268.9" y1="46.8" x2="272.1" y2="46.8" stroke="#c8102e" stroke-width="1"/>
<line x1="268.9" y1="52.2" x2="272.1" y2="52.2" stroke="#c8102e" stroke-width="1"/>
<circle cx="270.82" cy="49.5" r="1.55" fill="#c8102e"/>
<line x1="281.5" y1="52.5" x2="281.5" y2="71.3" stroke="#c8102e" stroke-width="1"/>
<line x1="279.9" y1="52.5" x2="283.1" y2="52.5" stroke="#c8102e" stroke-width="1"/>
<line x1="279.9" y1="71.3" x2="283.1" y2="71.3" stroke="#c8102e" stroke-width="1"/>
<circle cx="281.5" cy="61.2" r="1.55" fill="#c8102e"/>
<line x1="292.5" y1="71" x2="292.5" y2="84.4" stroke="#c8102e" stroke-width="1"/>
<line x1="290.9" y1="71" x2="294.1" y2="71" stroke="#c8102e" stroke-width="1"/>
<line x1="290.9" y1="84.4" x2="294.1" y2="84.4" stroke="#c8102e" stroke-width="1"/>
<circle cx="292.18" cy="76.6" r="1.55" fill="#c8102e"/>
<line x1="302.5" y1="81" x2="302.5" y2="85.8" stroke="#c8102e" stroke-width="1"/>
<line x1="300.9" y1="81" x2="304.1" y2="81" stroke="#c8102e" stroke-width="1"/>
<line x1="300.9" y1="85.8" x2="304.1" y2="85.8" stroke="#c8102e" stroke-width="1"/>
<circle cx="302.86" cy="83.7" r="1.55" fill="#c8102e"/>
<circle cx="313.54" cy="106" r="1.55" fill="#c8102e"/>
<circle cx="324.22" cy="108.5" r="1.55" fill="#c8102e"/>
<circle cx="334.9" cy="109" r="1.55" fill="#c8102e"/>
<line x1="379.6" y1="24.1" x2="379.6" y2="110.6" stroke="#231f20" stroke-width="1.2"/>
<line x1="376.6" y1="27.2" x2="379.6" y2="27.2" stroke="#231f20" stroke-width="1"/>
<text x="374.8" y="29.9" font-size="8.3" text-anchor="end" textLength="11.55" lengthAdjust="spacingAndGlyphs">800</text>
<line x1="376.6" y1="47.9" x2="379.6" y2="47.9" stroke="#231f20" stroke-width="1"/>
<text x="374.8" y="50.6" font-size="8.3" text-anchor="end" textLength="11.55" lengthAdjust="spacingAndGlyphs">600</text>
<line x1="376.6" y1="68.6" x2="379.6" y2="68.6" stroke="#231f20" stroke-width="1"/>
<text x="374.8" y="71.3" font-size="8.3" text-anchor="end" textLength="11.55" lengthAdjust="spacingAndGlyphs">400</text>
<line x1="376.6" y1="89.3" x2="379.6" y2="89.3" stroke="#231f20" stroke-width="1"/>
<text x="374.8" y="92" font-size="8.3" text-anchor="end" textLength="11.55" lengthAdjust="spacingAndGlyphs">200</text>
<line x1="376.6" y1="110" x2="379.6" y2="110" stroke="#231f20" stroke-width="1"/>
<text x="374.8" y="112.7" font-size="8.3" text-anchor="end" textLength="3.85" lengthAdjust="spacingAndGlyphs">0</text>
<line x1="379" y1="110" x2="508.88" y2="110" stroke="#231f20" stroke-width="1.3"/>
<line x1="379.6" y1="110" x2="379.6" y2="112.7" stroke="#231f20" stroke-width="1"/>
<line x1="384.46" y1="110" x2="384.46" y2="112.2" stroke="#231f20" stroke-width="0.8"/>
<line x1="387.31" y1="110" x2="387.31" y2="112.2" stroke="#231f20" stroke-width="0.8"/>
<line x1="389.33" y1="110" x2="389.33" y2="112.2" stroke="#231f20" stroke-width="0.8"/>
<line x1="390.9" y1="110" x2="390.9" y2="112.2" stroke="#231f20" stroke-width="0.8"/>
<line x1="392.17" y1="110" x2="392.17" y2="112.2" stroke="#231f20" stroke-width="0.8"/>
<line x1="393.26" y1="110" x2="393.26" y2="112.2" stroke="#231f20" stroke-width="0.8"/>
<line x1="394.19" y1="110" x2="394.19" y2="112.2" stroke="#231f20" stroke-width="0.8"/>
<line x1="395.02" y1="110" x2="395.02" y2="112.2" stroke="#231f20" stroke-width="0.8"/>
<text x="374.4" y="120.9" font-size="8.2" textLength="6.4" lengthAdjust="spacingAndGlyphs">10</text>
<text x="381.4" y="118.2" font-size="4.9" textLength="7.0" lengthAdjust="spacingAndGlyphs" style="stroke-width:0px">-14</text>
<line x1="395.76" y1="110" x2="395.76" y2="112.7" stroke="#231f20" stroke-width="1"/>
<line x1="400.62" y1="110" x2="400.62" y2="112.2" stroke="#231f20" stroke-width="0.8"/>
<line x1="403.47" y1="110" x2="403.47" y2="112.2" stroke="#231f20" stroke-width="0.8"/>
<line x1="405.49" y1="110" x2="405.49" y2="112.2" stroke="#231f20" stroke-width="0.8"/>
<line x1="407.06" y1="110" x2="407.06" y2="112.2" stroke="#231f20" stroke-width="0.8"/>
<line x1="408.33" y1="110" x2="408.33" y2="112.2" stroke="#231f20" stroke-width="0.8"/>
<line x1="409.42" y1="110" x2="409.42" y2="112.2" stroke="#231f20" stroke-width="0.8"/>
<line x1="410.35" y1="110" x2="410.35" y2="112.2" stroke="#231f20" stroke-width="0.8"/>
<line x1="411.18" y1="110" x2="411.18" y2="112.2" stroke="#231f20" stroke-width="0.8"/>
<text x="390.56" y="120.9" font-size="8.2" textLength="6.4" lengthAdjust="spacingAndGlyphs">10</text>
<text x="397.56" y="118.2" font-size="4.9" textLength="7.0" lengthAdjust="spacingAndGlyphs" style="stroke-width:0px">-13</text>
<line x1="411.92" y1="110" x2="411.92" y2="112.7" stroke="#231f20" stroke-width="1"/>
<line x1="416.78" y1="110" x2="416.78" y2="112.2" stroke="#231f20" stroke-width="0.8"/>
<line x1="419.63" y1="110" x2="419.63" y2="112.2" stroke="#231f20" stroke-width="0.8"/>
<line x1="421.65" y1="110" x2="421.65" y2="112.2" stroke="#231f20" stroke-width="0.8"/>
<line x1="423.22" y1="110" x2="423.22" y2="112.2" stroke="#231f20" stroke-width="0.8"/>
<line x1="424.49" y1="110" x2="424.49" y2="112.2" stroke="#231f20" stroke-width="0.8"/>
<line x1="425.58" y1="110" x2="425.58" y2="112.2" stroke="#231f20" stroke-width="0.8"/>
<line x1="426.51" y1="110" x2="426.51" y2="112.2" stroke="#231f20" stroke-width="0.8"/>
<line x1="427.34" y1="110" x2="427.34" y2="112.2" stroke="#231f20" stroke-width="0.8"/>
<text x="406.72" y="120.9" font-size="8.2" textLength="6.4" lengthAdjust="spacingAndGlyphs">10</text>
<text x="413.72" y="118.2" font-size="4.9" textLength="7.0" lengthAdjust="spacingAndGlyphs" style="stroke-width:0px">-12</text>
<line x1="428.08" y1="110" x2="428.08" y2="112.7" stroke="#231f20" stroke-width="1"/>
<line x1="432.94" y1="110" x2="432.94" y2="112.2" stroke="#231f20" stroke-width="0.8"/>
<line x1="435.79" y1="110" x2="435.79" y2="112.2" stroke="#231f20" stroke-width="0.8"/>
<line x1="437.81" y1="110" x2="437.81" y2="112.2" stroke="#231f20" stroke-width="0.8"/>
<line x1="439.38" y1="110" x2="439.38" y2="112.2" stroke="#231f20" stroke-width="0.8"/>
<line x1="440.65" y1="110" x2="440.65" y2="112.2" stroke="#231f20" stroke-width="0.8"/>
<line x1="441.74" y1="110" x2="441.74" y2="112.2" stroke="#231f20" stroke-width="0.8"/>
<line x1="442.67" y1="110" x2="442.67" y2="112.2" stroke="#231f20" stroke-width="0.8"/>
<line x1="443.5" y1="110" x2="443.5" y2="112.2" stroke="#231f20" stroke-width="0.8"/>
<text x="422.88" y="120.9" font-size="8.2" textLength="6.4" lengthAdjust="spacingAndGlyphs">10</text>
<text x="429.88" y="118.2" font-size="4.9" textLength="7.0" lengthAdjust="spacingAndGlyphs" style="stroke-width:0px">-11</text>
<line x1="444.24" y1="110" x2="444.24" y2="112.7" stroke="#231f20" stroke-width="1"/>
<line x1="449.1" y1="110" x2="449.1" y2="112.2" stroke="#231f20" stroke-width="0.8"/>
<line x1="451.95" y1="110" x2="451.95" y2="112.2" stroke="#231f20" stroke-width="0.8"/>
<line x1="453.97" y1="110" x2="453.97" y2="112.2" stroke="#231f20" stroke-width="0.8"/>
<line x1="455.54" y1="110" x2="455.54" y2="112.2" stroke="#231f20" stroke-width="0.8"/>
<line x1="456.81" y1="110" x2="456.81" y2="112.2" stroke="#231f20" stroke-width="0.8"/>
<line x1="457.9" y1="110" x2="457.9" y2="112.2" stroke="#231f20" stroke-width="0.8"/>
<line x1="458.83" y1="110" x2="458.83" y2="112.2" stroke="#231f20" stroke-width="0.8"/>
<line x1="459.66" y1="110" x2="459.66" y2="112.2" stroke="#231f20" stroke-width="0.8"/>
<text x="439.04" y="120.9" font-size="8.2" textLength="6.4" lengthAdjust="spacingAndGlyphs">10</text>
<text x="446.04" y="118.2" font-size="4.9" textLength="7.0" lengthAdjust="spacingAndGlyphs" style="stroke-width:0px">-10</text>
<line x1="460.4" y1="110" x2="460.4" y2="112.7" stroke="#231f20" stroke-width="1"/>
<line x1="465.26" y1="110" x2="465.26" y2="112.2" stroke="#231f20" stroke-width="0.8"/>
<line x1="468.11" y1="110" x2="468.11" y2="112.2" stroke="#231f20" stroke-width="0.8"/>
<line x1="470.13" y1="110" x2="470.13" y2="112.2" stroke="#231f20" stroke-width="0.8"/>
<line x1="471.7" y1="110" x2="471.7" y2="112.2" stroke="#231f20" stroke-width="0.8"/>
<line x1="472.97" y1="110" x2="472.97" y2="112.2" stroke="#231f20" stroke-width="0.8"/>
<line x1="474.06" y1="110" x2="474.06" y2="112.2" stroke="#231f20" stroke-width="0.8"/>
<line x1="474.99" y1="110" x2="474.99" y2="112.2" stroke="#231f20" stroke-width="0.8"/>
<line x1="475.82" y1="110" x2="475.82" y2="112.2" stroke="#231f20" stroke-width="0.8"/>
<text x="455.2" y="120.9" font-size="8.2" textLength="6.4" lengthAdjust="spacingAndGlyphs">10</text>
<text x="462.2" y="118.2" font-size="4.9" textLength="7.0" lengthAdjust="spacingAndGlyphs" style="stroke-width:0px">-9</text>
<line x1="476.56" y1="110" x2="476.56" y2="112.7" stroke="#231f20" stroke-width="1"/>
<line x1="481.42" y1="110" x2="481.42" y2="112.2" stroke="#231f20" stroke-width="0.8"/>
<line x1="484.27" y1="110" x2="484.27" y2="112.2" stroke="#231f20" stroke-width="0.8"/>
<line x1="486.29" y1="110" x2="486.29" y2="112.2" stroke="#231f20" stroke-width="0.8"/>
<line x1="487.86" y1="110" x2="487.86" y2="112.2" stroke="#231f20" stroke-width="0.8"/>
<line x1="489.13" y1="110" x2="489.13" y2="112.2" stroke="#231f20" stroke-width="0.8"/>
<line x1="490.22" y1="110" x2="490.22" y2="112.2" stroke="#231f20" stroke-width="0.8"/>
<line x1="491.15" y1="110" x2="491.15" y2="112.2" stroke="#231f20" stroke-width="0.8"/>
<line x1="491.98" y1="110" x2="491.98" y2="112.2" stroke="#231f20" stroke-width="0.8"/>
<text x="471.36" y="120.9" font-size="8.2" textLength="6.4" lengthAdjust="spacingAndGlyphs">10</text>
<text x="478.36" y="118.2" font-size="4.9" textLength="7.0" lengthAdjust="spacingAndGlyphs" style="stroke-width:0px">-8</text>
<line x1="492.72" y1="110" x2="492.72" y2="112.7" stroke="#231f20" stroke-width="1"/>
<line x1="497.58" y1="110" x2="497.58" y2="112.2" stroke="#231f20" stroke-width="0.8"/>
<line x1="500.43" y1="110" x2="500.43" y2="112.2" stroke="#231f20" stroke-width="0.8"/>
<line x1="502.45" y1="110" x2="502.45" y2="112.2" stroke="#231f20" stroke-width="0.8"/>
<line x1="504.02" y1="110" x2="504.02" y2="112.2" stroke="#231f20" stroke-width="0.8"/>
<line x1="505.29" y1="110" x2="505.29" y2="112.2" stroke="#231f20" stroke-width="0.8"/>
<line x1="506.38" y1="110" x2="506.38" y2="112.2" stroke="#231f20" stroke-width="0.8"/>
<line x1="507.31" y1="110" x2="507.31" y2="112.2" stroke="#231f20" stroke-width="0.8"/>
<line x1="508.14" y1="110" x2="508.14" y2="112.2" stroke="#231f20" stroke-width="0.8"/>
<text x="487.52" y="120.9" font-size="8.2" textLength="6.4" lengthAdjust="spacingAndGlyphs">10</text>
<text x="494.52" y="118.2" font-size="4.9" textLength="7.0" lengthAdjust="spacingAndGlyphs" style="stroke-width:0px">-7</text>
<line x1="508.88" y1="110" x2="508.88" y2="112.7" stroke="#231f20" stroke-width="1"/>
<text x="503.68" y="120.9" font-size="8.2" textLength="6.4" lengthAdjust="spacingAndGlyphs">10</text>
<text x="510.68" y="118.2" font-size="4.9" textLength="7.0" lengthAdjust="spacingAndGlyphs" style="stroke-width:0px">-6</text>
<text x="444.24" y="132.3" font-size="9.9" text-anchor="middle" textLength="60" lengthAdjust="spacingAndGlyphs">Concentration (M)</text>
<text x="436.7" y="14.9" font-size="10.1" text-anchor="middle" textLength="53.4" lengthAdjust="spacingAndGlyphs" style="stroke-width:0.1px">LSK BM cells</text>
<text x="0" y="0" font-size="10.5" text-anchor="middle" transform="translate(359.2 65.45) rotate(-90)" textLength="34.1" lengthAdjust="spacingAndGlyphs" style="stroke-width:0.02px">Total  cells</text>
<path d="M395.4,66.8 L396.61,66.8 L397.83,66.8 L399.04,66.81 L400.25,66.81 L401.47,66.81 L402.68,66.81 L403.9,66.81 L405.11,66.81 L406.32,66.82 L407.54,66.82 L408.75,66.82 L409.96,66.83 L411.18,66.83 L412.39,66.84 L413.61,66.85 L414.82,66.86 L416.03,66.87 L417.25,66.88 L418.46,66.89 L419.67,66.91 L420.89,66.93 L422.1,66.96 L423.32,66.99 L424.53,67.02 L425.74,67.06 L426.96,67.11 L428.17,67.17 L429.38,67.24 L430.6,67.32 L431.81,67.42 L433.03,67.53 L434.24,67.67 L435.45,67.83 L436.67,68.02 L437.88,68.24 L439.09,68.5 L440.31,68.81 L441.52,69.17 L442.74,69.59 L443.95,70.08 L445.16,70.64 L446.38,71.29 L447.59,72.03 L448.81,72.88 L450.02,73.84 L451.23,74.92 L452.45,76.12 L453.66,77.45 L454.87,78.9 L456.09,80.46 L457.3,82.12 L458.51,83.87 L459.73,85.69 L460.94,87.54 L462.16,89.41 L463.37,91.26 L464.58,93.07 L465.8,94.81 L467.01,96.47 L468.23,98.02 L469.44,99.46 L470.65,100.78 L471.87,101.97 L473.08,103.04 L474.29,103.99 L475.51,104.83 L476.72,105.57 L477.94,106.21 L479.15,106.77 L480.36,107.25 L481.58,107.66 L482.79,108.02 L484,108.32 L485.22,108.58 L486.43,108.8 L487.64,108.98 L488.86,109.14 L490.07,109.28 L491.29,109.39 L492.5,109.48" fill="none" stroke="#c8102e" stroke-width="1.05"/>
<path d="M395.4,66.2 L396.61,66.2 L397.83,66.2 L399.04,66.2 L400.25,66.2 L401.47,66.2 L402.68,66.2 L403.9,66.2 L405.11,66.2 L406.32,66.2 L407.54,66.2 L408.75,66.2 L409.96,66.2 L411.18,66.2 L412.39,66.2 L413.61,66.2 L414.82,66.2 L416.03,66.2 L417.25,66.2 L418.46,66.2 L419.67,66.2 L420.89,66.2 L422.1,66.2 L423.32,66.2 L424.53,66.2 L425.74,66.2 L426.96,66.2 L428.17,66.2 L429.38,66.2 L430.6,66.2 L431.81,66.2 L433.03,66.2 L434.24,66.2 L435.45,66.2 L436.67,66.2 L437.88,66.2 L439.09,66.2 L440.31,66.2 L441.52,66.2 L442.74,66.2 L443.95,66.2 L445.16,66.2 L446.38,66.2 L447.59,66.2 L448.81,66.2 L450.02,66.2 L451.23,66.2 L452.45,66.2 L453.66,66.2 L454.87,66.2 L456.09,66.2 L457.3,66.2 L458.51,66.2 L459.73,66.2 L460.94,66.2 L462.16,66.2 L463.37,66.2 L464.58,66.2 L465.8,66.2 L467.01,66.2 L468.23,66.2 L469.44,66.21 L470.65,66.56 L471.87,75.09 L473.08,101.84 L474.29,105.57 L475.51,105.7 L476.72,105.7 L477.94,105.7 L479.15,105.7 L480.36,105.7 L481.58,105.7 L482.79,105.7 L484,105.7 L485.22,105.7 L486.43,105.7 L487.64,105.7 L488.86,105.7 L490.07,105.7 L491.29,105.7 L492.5,105.7" fill="none" stroke="#0b4a8b" stroke-width="1.05"/>
<path d="M395.4,67.45 L396.61,68.63 L397.83,70.02 L399.04,71.64 L400.25,73.48 L401.47,75.56 L402.68,77.85 L403.9,80.32 L405.11,82.93 L406.32,85.61 L407.54,88.3 L408.75,90.93 L409.96,93.45 L411.18,95.79 L412.39,97.94 L413.61,99.85 L414.82,101.53 L416.03,102.99 L417.25,104.23 L418.46,105.28 L419.67,106.15 L420.89,106.88 L422.1,107.47 L423.32,107.96 L424.53,108.36 L425.74,108.68 L426.96,108.94 L428.17,109.15 L429.38,109.32 L430.6,109.45 L431.81,109.56 L433.03,109.65 L434.24,109.72 L435.45,109.78 L436.67,109.82 L437.88,109.86 L439.09,109.89 L440.31,109.91 L441.52,109.93 L442.74,109.94 L443.95,109.95 L445.16,109.96 L446.38,109.97 L447.59,109.98 L448.81,109.98 L450.02,109.98 L451.23,109.99 L452.45,109.99 L453.66,109.99 L454.87,109.99 L456.09,110 L457.3,110 L458.51,110 L459.73,110 L460.94,110 L462.16,110 L463.37,110 L464.58,110 L465.8,110 L467.01,110 L468.23,110 L469.44,110 L470.65,110 L471.87,110 L473.08,110 L474.29,110 L475.51,110 L476.72,110 L477.94,110 L479.15,110 L480.36,110 L481.58,110 L482.79,110 L484,110 L485.22,110 L486.43,110 L487.64,110 L488.86,110 L490.07,110 L491.29,110 L492.5,110" fill="none" stroke="#2fb844" stroke-width="1.05"/>
<circle cx="395.4" cy="71.5" r="1.26" fill="#2fb844"/>
<line x1="405.5" y1="81" x2="405.5" y2="88" stroke="#2fb844" stroke-width="1"/>
<line x1="403.9" y1="81" x2="407.1" y2="81" stroke="#2fb844" stroke-width="1"/>
<line x1="403.9" y1="88" x2="407.1" y2="88" stroke="#2fb844" stroke-width="1"/>
<circle cx="405.11" cy="84.4" r="1.26" fill="#2fb844"/>
<circle cx="414.82" cy="101.2" r="1.26" fill="#2fb844"/>
<circle cx="424.53" cy="109.3" r="1.26" fill="#2fb844"/>
<circle cx="434.24" cy="109.5" r="1.26" fill="#2fb844"/>
<circle cx="443.95" cy="109.5" r="1.26" fill="#2fb844"/>
<circle cx="453.66" cy="109.5" r="1.26" fill="#2fb844"/>
<circle cx="463.37" cy="109.5" r="1.26" fill="#2fb844"/>
<circle cx="473.08" cy="109.5" r="1.26" fill="#2fb844"/>
<circle cx="482.79" cy="109.5" r="1.26" fill="#2fb844"/>
<circle cx="492.5" cy="109.5" r="1.26" fill="#2fb844"/>
<line x1="395.5" y1="58.2" x2="395.5" y2="74.3" stroke="#0b4a8b" stroke-width="1"/>
<line x1="393.9" y1="58.2" x2="397.1" y2="58.2" stroke="#0b4a8b" stroke-width="1"/>
<line x1="393.9" y1="74.3" x2="397.1" y2="74.3" stroke="#0b4a8b" stroke-width="1"/>
<circle cx="395.4" cy="66.5" r="1.4" fill="#0b4a8b"/>
<line x1="405.5" y1="60.2" x2="405.5" y2="67" stroke="#0b4a8b" stroke-width="1"/>
<line x1="403.9" y1="60.2" x2="407.1" y2="60.2" stroke="#0b4a8b" stroke-width="1"/>
<line x1="403.9" y1="67" x2="407.1" y2="67" stroke="#0b4a8b" stroke-width="1"/>
<circle cx="405.11" cy="63.6" r="1.4" fill="#0b4a8b"/>
<line x1="414.5" y1="57.2" x2="414.5" y2="75.3" stroke="#0b4a8b" stroke-width="1"/>
<line x1="412.9" y1="57.2" x2="416.1" y2="57.2" stroke="#0b4a8b" stroke-width="1"/>
<line x1="412.9" y1="75.3" x2="416.1" y2="75.3" stroke="#0b4a8b" stroke-width="1"/>
<circle cx="414.82" cy="66.5" r="1.4" fill="#0b4a8b"/>
<line x1="424.5" y1="61.5" x2="424.5" y2="71.6" stroke="#0b4a8b" stroke-width="1"/>
<line x1="422.9" y1="61.5" x2="426.1" y2="61.5" stroke="#0b4a8b" stroke-width="1"/>
<line x1="422.9" y1="71.6" x2="426.1" y2="71.6" stroke="#0b4a8b" stroke-width="1"/>
<circle cx="424.53" cy="66.5" r="1.4" fill="#0b4a8b"/>
<line x1="434.5" y1="52.1" x2="434.5" y2="67.6" stroke="#0b4a8b" stroke-width="1"/>
<line x1="432.9" y1="52.1" x2="436.1" y2="52.1" stroke="#0b4a8b" stroke-width="1"/>
<line x1="432.9" y1="67.6" x2="436.1" y2="67.6" stroke="#0b4a8b" stroke-width="1"/>
<circle cx="434.24" cy="60.2" r="1.4" fill="#0b4a8b"/>
<line x1="443.5" y1="49.4" x2="443.5" y2="67" stroke="#0b4a8b" stroke-width="1"/>
<line x1="441.9" y1="49.4" x2="445.1" y2="49.4" stroke="#0b4a8b" stroke-width="1"/>
<line x1="441.9" y1="67" x2="445.1" y2="67" stroke="#0b4a8b" stroke-width="1"/>
<circle cx="443.95" cy="58.6" r="1.4" fill="#0b4a8b"/>
<rect x="452.36" y="46.6" width="2.6" height="3.4" fill="#0b4a8b"/>
<line x1="463.5" y1="55.9" x2="463.5" y2="72.7" stroke="#0b4a8b" stroke-width="1"/>
<line x1="461.9" y1="55.9" x2="465.1" y2="55.9" stroke="#0b4a8b" stroke-width="1"/>
<line x1="461.9" y1="72.7" x2="465.1" y2="72.7" stroke="#0b4a8b" stroke-width="1"/>
<circle cx="463.37" cy="64.2" r="1.4" fill="#0b4a8b"/>
<circle cx="473.08" cy="99" r="1.4" fill="#0b4a8b"/>
<circle cx="482.79" cy="106" r="1.4" fill="#0b4a8b"/>
<line x1="492.5" y1="103.3" x2="492.5" y2="108.5" stroke="#0b4a8b" stroke-width="1"/>
<line x1="490.9" y1="103.3" x2="494.1" y2="103.3" stroke="#0b4a8b" stroke-width="1"/>
<line x1="490.9" y1="108.5" x2="494.1" y2="108.5" stroke="#0b4a8b" stroke-width="1"/>
<circle cx="492.5" cy="106.6" r="1.4" fill="#0b4a8b"/>
<line x1="395.5" y1="59" x2="395.5" y2="62.5" stroke="#c8102e" stroke-width="1"/>
<line x1="393.9" y1="59" x2="397.1" y2="59" stroke="#c8102e" stroke-width="1"/>
<line x1="393.9" y1="62.5" x2="397.1" y2="62.5" stroke="#c8102e" stroke-width="1"/>
<circle cx="395.4" cy="60.9" r="1.4" fill="#c8102e"/>
<line x1="405.5" y1="69.6" x2="405.5" y2="76.3" stroke="#c8102e" stroke-width="1"/>
<line x1="403.9" y1="69.6" x2="407.1" y2="69.6" stroke="#c8102e" stroke-width="1"/>
<line x1="403.9" y1="76.3" x2="407.1" y2="76.3" stroke="#c8102e" stroke-width="1"/>
<circle cx="405.11" cy="73" r="1.4" fill="#c8102e"/>
<circle cx="414.82" cy="63.6" r="1.4" fill="#c8102e"/>
<circle cx="424.53" cy="62.9" r="1.4" fill="#c8102e"/>
<circle cx="434.24" cy="64" r="1.4" fill="#c8102e"/>
<line x1="443.5" y1="71" x2="443.5" y2="82.4" stroke="#c8102e" stroke-width="1"/>
<line x1="441.9" y1="71" x2="445.1" y2="71" stroke="#c8102e" stroke-width="1"/>
<line x1="441.9" y1="82.4" x2="445.1" y2="82.4" stroke="#c8102e" stroke-width="1"/>
<circle cx="443.95" cy="77" r="1.4" fill="#c8102e"/>
<line x1="453.5" y1="75.5" x2="453.5" y2="79" stroke="#c8102e" stroke-width="1"/>
<line x1="451.9" y1="75.5" x2="455.1" y2="75.5" stroke="#c8102e" stroke-width="1"/>
<line x1="451.9" y1="79" x2="455.1" y2="79" stroke="#c8102e" stroke-width="1"/>
<circle cx="453.66" cy="77.4" r="1.4" fill="#c8102e"/>
<line x1="463.5" y1="84.4" x2="463.5" y2="89.8" stroke="#c8102e" stroke-width="1"/>
<line x1="461.9" y1="84.4" x2="465.1" y2="84.4" stroke="#c8102e" stroke-width="1"/>
<line x1="461.9" y1="89.8" x2="465.1" y2="89.8" stroke="#c8102e" stroke-width="1"/>
<circle cx="463.37" cy="87.4" r="1.4" fill="#c8102e"/>
<circle cx="473.08" cy="103.9" r="1.4" fill="#c8102e"/>
<circle cx="482.79" cy="109.5" r="1.4" fill="#c8102e"/>
<circle cx="492.5" cy="109.7" r="1.4" fill="#c8102e"/>
<line x1="464" y1="24" x2="469.8" y2="24" stroke="#c8102e" stroke-width="1.1"/>
<circle cx="466.9" cy="24" r="1.5" fill="#c8102e"/>
<text x="471.7" y="26.2" font-size="7.8" textLength="26" lengthAdjust="spacingAndGlyphs" style="stroke-width:0.08px">Iso-ADC</text>
<line x1="464" y1="31.6" x2="469.8" y2="31.6" stroke="#0b4a8b" stroke-width="1.1"/>
<circle cx="466.9" cy="31.6" r="1.5" fill="#0b4a8b"/>
<text x="471.7" y="33.8" font-size="7.8" textLength="39.8" lengthAdjust="spacingAndGlyphs" style="stroke-width:0.08px">CD45 naked</text>
<line x1="464" y1="39.2" x2="469.8" y2="39.2" stroke="#2fb844" stroke-width="1.1"/>
<circle cx="466.9" cy="39.2" r="1.5" fill="#2fb844"/>
<text x="471.7" y="41.4" font-size="7.8" textLength="34" lengthAdjust="spacingAndGlyphs" style="stroke-width:0.08px">CD45-ADC</text>
<rect x="32" y="143" width="269" height="67" fill="#c4d4e1"/>
<line x1="32" y1="169.2" x2="301" y2="169.2" stroke="#ffffff" stroke-width="1"/>
<line x1="32" y1="182.6" x2="301" y2="182.6" stroke="#ffffff" stroke-width="1"/>
<line x1="32" y1="196.3" x2="301" y2="196.3" stroke="#ffffff" stroke-width="1"/>
<line x1="108.5" y1="156" x2="301" y2="156" stroke="#ffffff" stroke-width="1"/>
<line x1="108.5" y1="143" x2="108.5" y2="210" stroke="#ffffff" stroke-width="1"/>
<line x1="172.7" y1="156" x2="172.7" y2="210" stroke="#ffffff" stroke-width="1"/>
<line x1="237" y1="156" x2="237" y2="210" stroke="#ffffff" stroke-width="1"/>
<text x="204.75" y="152.6" font-size="8.5" text-anchor="middle" textLength="31.5" lengthAdjust="spacingAndGlyphs">IC50 (M)</text>
<text x="139.2" y="165.6" font-size="8.5" text-anchor="middle" textLength="38.8" lengthAdjust="spacingAndGlyphs">CD45-ADC</text>
<text x="204" y="165.6" font-size="8.5" text-anchor="middle" textLength="43" lengthAdjust="spacingAndGlyphs">CD45 naked</text>
<text x="267.8" y="165.6" font-size="8.5" text-anchor="middle" textLength="44.5" lengthAdjust="spacingAndGlyphs">Isotype-ADC</text>
<text x="37.7" y="179" font-size="8.5" textLength="51.5" lengthAdjust="spacingAndGlyphs">CD45 BM cells</text>
<text x="140.6" y="179" font-size="8.5" text-anchor="middle" textLength="27.5" lengthAdjust="spacingAndGlyphs">2.4E-13</text>
<text x="204.85" y="179" font-size="8.5" text-anchor="middle" textLength="27.5" lengthAdjust="spacingAndGlyphs">7.6E-10</text>
<text x="269" y="179" font-size="8.5" text-anchor="middle" textLength="27.5" lengthAdjust="spacingAndGlyphs">1.1E-09</text>
<text x="37.7" y="192.6" font-size="8.5" textLength="31.5" lengthAdjust="spacingAndGlyphs">Lin– cells</text>
<text x="140.6" y="192.6" font-size="8.5" text-anchor="middle" textLength="27.5" lengthAdjust="spacingAndGlyphs">2.6E-13</text>
<text x="204.85" y="192.6" font-size="8.5" text-anchor="middle" textLength="27.5" lengthAdjust="spacingAndGlyphs">7.2E-10</text>
<text x="269" y="192.6" font-size="8.5" text-anchor="middle" textLength="27.5" lengthAdjust="spacingAndGlyphs">7.2E-10</text>
<text x="37.7" y="206.2" font-size="8.5" textLength="30.8" lengthAdjust="spacingAndGlyphs">LSK cells</text>
<text x="140.6" y="206.2" font-size="8.5" text-anchor="middle" textLength="27.5" lengthAdjust="spacingAndGlyphs">5.2E-13</text>
<text x="204.85" y="206.2" font-size="8.5" text-anchor="middle" textLength="27.5" lengthAdjust="spacingAndGlyphs">5.6E-09</text>
<text x="269" y="206.2" font-size="8.5" text-anchor="middle" textLength="27.5" lengthAdjust="spacingAndGlyphs">1.4E-09</text>
<text x="6.8" y="227.4" font-size="11.2" textLength="7.2" lengthAdjust="spacingAndGlyphs" font-weight="bold" style="stroke-width:0.7px">B</text>
<text x="6.9" y="364.8" font-size="12" textLength="8" lengthAdjust="spacingAndGlyphs" font-weight="bold" style="stroke-width:0.7px">C</text>
<line x1="43.6" y1="233" x2="43.6" y2="320.9" stroke="#231f20" stroke-width="1.2"/>
<line x1="40.4" y1="320.3" x2="43.6" y2="320.3" stroke="#231f20" stroke-width="1"/>
<text x="38.8" y="323.2" font-size="8.85" text-anchor="end" textLength="4.22" lengthAdjust="spacingAndGlyphs">0</text>
<line x1="40.4" y1="292.3" x2="43.6" y2="292.3" stroke="#231f20" stroke-width="1"/>
<text x="38.8" y="295.2" font-size="8.85" text-anchor="end" textLength="21.1" lengthAdjust="spacingAndGlyphs">10000</text>
<line x1="40.4" y1="264.3" x2="43.6" y2="264.3" stroke="#231f20" stroke-width="1"/>
<text x="38.8" y="267.2" font-size="8.85" text-anchor="end" textLength="21.1" lengthAdjust="spacingAndGlyphs">20000</text>
<line x1="40.4" y1="236.3" x2="43.6" y2="236.3" stroke="#231f20" stroke-width="1"/>
<text x="38.8" y="239.2" font-size="8.85" text-anchor="end" textLength="21.1" lengthAdjust="spacingAndGlyphs">30000</text>
<rect x="52.5" y="265.6" width="16" height="54.7" fill="#de8797" stroke="#d97489" stroke-width="0.8"/>
<rect x="78.3" y="312.3" width="15.6" height="8" fill="#8aa8c6" stroke="#7c9dbf" stroke-width="0.8"/>
<rect x="103.5" y="267.2" width="15.9" height="53.1" fill="#9cd9a3" stroke="#8ed197" stroke-width="0.8"/>
<rect x="128.7" y="313.1" width="15.7" height="7.2" fill="#ab92b8" stroke="#a086b0" stroke-width="0.8"/>
<line x1="43" y1="320.3" x2="172.8" y2="320.3" stroke="#231f20" stroke-width="1.3"/>
<line x1="60.5" y1="320.3" x2="60.5" y2="323.3" stroke="#231f20" stroke-width="1"/>
<line x1="86.1" y1="320.3" x2="86.1" y2="323.3" stroke="#231f20" stroke-width="1"/>
<line x1="111.45" y1="320.3" x2="111.45" y2="323.3" stroke="#231f20" stroke-width="1"/>
<line x1="136.55" y1="320.3" x2="136.55" y2="323.3" stroke="#231f20" stroke-width="1"/>
<line x1="160.65" y1="320.3" x2="160.65" y2="323.3" stroke="#231f20" stroke-width="1"/>
<line x1="60.5" y1="254.6" x2="60.5" y2="265.2" stroke="#231f20" stroke-width="1.1"/>
<line x1="56.2" y1="254.6" x2="64.8" y2="254.6" stroke="#231f20" stroke-width="1.1"/>
<circle cx="60.5" cy="245.9" r="1.75" fill="#c8102e"/>
<circle cx="60.5" cy="267" r="1.75" fill="#c8102e"/>
<circle cx="60.5" cy="282.8" r="1.75" fill="#c8102e"/>
<line x1="86.1" y1="310.6" x2="86.1" y2="311.9" stroke="#231f20" stroke-width="1.1"/>
<line x1="81.8" y1="310.6" x2="90.4" y2="310.6" stroke="#231f20" stroke-width="1.1"/>
<circle cx="80.9" cy="310.7" r="1.75" fill="#0b4a8b"/>
<circle cx="86" cy="313.6" r="1.75" fill="#0b4a8b"/>
<circle cx="90.7" cy="311.9" r="1.75" fill="#0b4a8b"/>
<polygon points="86.4,291.86 86.87,292.95 88.06,293.06 87.17,293.85 87.42,295.01 86.4,294.41 85.38,295.01 85.63,293.85 84.74,293.06 85.93,292.95" fill="#231f20"/>
<line x1="111.45" y1="257.1" x2="111.45" y2="266.8" stroke="#231f20" stroke-width="1.1"/>
<line x1="107.15" y1="257.1" x2="115.75" y2="257.1" stroke="#231f20" stroke-width="1.1"/>
<circle cx="111.4" cy="249.1" r="1.75" fill="#2fb844"/>
<circle cx="111.4" cy="268.6" r="1.75" fill="#2fb844"/>
<circle cx="111.4" cy="283.6" r="1.75" fill="#2fb844"/>
<line x1="136.55" y1="307.5" x2="136.55" y2="312.7" stroke="#231f20" stroke-width="1.1"/>
<line x1="132.25" y1="307.5" x2="140.85" y2="307.5" stroke="#231f20" stroke-width="1.1"/>
<circle cx="137.1" cy="304" r="1.75" fill="#55186b"/>
<circle cx="139.4" cy="316.4" r="1.75" fill="#55186b"/>
<circle cx="134.1" cy="318.2" r="1.75" fill="#55186b"/>
<polygon points="137.3,289.16 137.77,290.25 138.96,290.36 138.07,291.15 138.32,292.31 137.3,291.71 136.28,292.31 136.53,291.15 135.64,290.36 136.83,290.25" fill="#231f20"/>
<circle cx="154.8" cy="320.4" r="1.75" fill="#ff8b00"/>
<circle cx="159.8" cy="320.4" r="1.75" fill="#ff8b00"/>
<circle cx="165.3" cy="320.4" r="1.75" fill="#ff8b00"/>
<polygon points="161.5,304.46 161.97,305.55 163.16,305.66 162.27,306.45 162.52,307.61 161.5,307.01 160.48,307.61 160.73,306.45 159.84,305.66 161.03,305.55" fill="#231f20"/>
<text x="60.5" y="331.5" font-size="8.85" text-anchor="middle" textLength="32" lengthAdjust="spacingAndGlyphs">Untreated</text>
<text x="86.1" y="331.5" font-size="8.85" text-anchor="middle" textLength="4" lengthAdjust="spacingAndGlyphs">3</text>
<text x="111.45" y="331.5" font-size="8.85" text-anchor="middle" textLength="9.6" lengthAdjust="spacingAndGlyphs">0.3</text>
<text x="136.55" y="331.5" font-size="8.85" text-anchor="middle" textLength="4" lengthAdjust="spacingAndGlyphs">1</text>
<text x="160.65" y="331.5" font-size="8.85" text-anchor="middle" textLength="4" lengthAdjust="spacingAndGlyphs">3</text>
<text x="166.7" y="329" font-size="7" textLength="18.8" lengthAdjust="spacingAndGlyphs" style="stroke-width:0.12px">mg/kg</text>
<line x1="103.7" y1="334.9" x2="167.3" y2="334.9" stroke="#231f20" stroke-width="1.1"/>
<text x="86.1" y="344.5" font-size="8.85" text-anchor="middle" textLength="42.4" lengthAdjust="spacingAndGlyphs">Isotype-ADC</text>
<text x="135.5" y="344.5" font-size="8.85" text-anchor="middle" textLength="37.2" lengthAdjust="spacingAndGlyphs">CD45-ADC</text>
<text x="0" y="0" font-size="9.36" text-anchor="middle" transform="translate(14.2 276.75) rotate(-90)" textLength="41.5" lengthAdjust="spacingAndGlyphs" style="stroke-width:0.16px"># LSK/Femur</text>
<line x1="209.7" y1="234.2" x2="209.7" y2="321" stroke="#231f20" stroke-width="1.2"/>
<line x1="206.5" y1="320.4" x2="209.7" y2="320.4" stroke="#231f20" stroke-width="1"/>
<text x="204.9" y="323.3" font-size="8.85" text-anchor="end" textLength="4.22" lengthAdjust="spacingAndGlyphs">0</text>
<line x1="206.5" y1="303.6" x2="209.7" y2="303.6" stroke="#231f20" stroke-width="1"/>
<text x="204.9" y="306.5" font-size="8.85" text-anchor="end" textLength="12.66" lengthAdjust="spacingAndGlyphs">500</text>
<line x1="206.5" y1="286.8" x2="209.7" y2="286.8" stroke="#231f20" stroke-width="1"/>
<text x="204.9" y="289.7" font-size="8.85" text-anchor="end" textLength="16.88" lengthAdjust="spacingAndGlyphs">1000</text>
<line x1="206.5" y1="270" x2="209.7" y2="270" stroke="#231f20" stroke-width="1"/>
<text x="204.9" y="272.9" font-size="8.85" text-anchor="end" textLength="16.88" lengthAdjust="spacingAndGlyphs">1500</text>
<line x1="206.5" y1="253.2" x2="209.7" y2="253.2" stroke="#231f20" stroke-width="1"/>
<text x="204.9" y="256.1" font-size="8.85" text-anchor="end" textLength="16.88" lengthAdjust="spacingAndGlyphs">2000</text>
<line x1="206.5" y1="236.4" x2="209.7" y2="236.4" stroke="#231f20" stroke-width="1"/>
<text x="204.9" y="239.3" font-size="8.85" text-anchor="end" textLength="16.88" lengthAdjust="spacingAndGlyphs">2500</text>
<rect x="218.5" y="268.7" width="16" height="51.7" fill="#de8797" stroke="#d97489" stroke-width="0.8"/>
<rect x="243.5" y="308.8" width="16" height="11.6" fill="#8aa8c6" stroke="#7c9dbf" stroke-width="0.8"/>
<rect x="269.2" y="267" width="15.6" height="53.4" fill="#9cd9a3" stroke="#8ed197" stroke-width="0.8"/>
<rect x="294.6" y="311.9" width="15.6" height="8.5" fill="#ab92b8" stroke="#a086b0" stroke-width="0.8"/>
<line x1="209.1" y1="320.4" x2="337.8" y2="320.4" stroke="#231f20" stroke-width="1.3"/>
<line x1="226.5" y1="320.4" x2="226.5" y2="323.4" stroke="#231f20" stroke-width="1"/>
<line x1="251.5" y1="320.4" x2="251.5" y2="323.4" stroke="#231f20" stroke-width="1"/>
<line x1="277" y1="320.4" x2="277" y2="323.4" stroke="#231f20" stroke-width="1"/>
<line x1="302.4" y1="320.4" x2="302.4" y2="323.4" stroke="#231f20" stroke-width="1"/>
<line x1="325.6" y1="320.4" x2="325.6" y2="323.4" stroke="#231f20" stroke-width="1"/>
<line x1="226.5" y1="256.1" x2="226.5" y2="268.3" stroke="#231f20" stroke-width="1.1"/>
<line x1="222.2" y1="256.1" x2="230.8" y2="256.1" stroke="#231f20" stroke-width="1.1"/>
<circle cx="226.4" cy="247.4" r="1.75" fill="#c8102e"/>
<circle cx="226.4" cy="267.3" r="1.75" fill="#c8102e"/>
<circle cx="226.4" cy="290.1" r="1.75" fill="#c8102e"/>
<line x1="251.5" y1="306.6" x2="251.5" y2="308.4" stroke="#231f20" stroke-width="1.1"/>
<line x1="247.2" y1="306.6" x2="255.8" y2="306.6" stroke="#231f20" stroke-width="1.1"/>
<circle cx="246.4" cy="306.7" r="1.75" fill="#0b4a8b"/>
<circle cx="256.9" cy="307.4" r="1.75" fill="#0b4a8b"/>
<circle cx="251.5" cy="310.4" r="1.75" fill="#0b4a8b"/>
<polygon points="252.2,291.66 252.67,292.75 253.86,292.86 252.97,293.65 253.22,294.81 252.2,294.21 251.18,294.81 251.43,293.65 250.54,292.86 251.73,292.75" fill="#231f20"/>
<line x1="277" y1="258.3" x2="277" y2="266.6" stroke="#231f20" stroke-width="1.1"/>
<line x1="272.7" y1="258.3" x2="281.3" y2="258.3" stroke="#231f20" stroke-width="1.1"/>
<circle cx="276.9" cy="255.5" r="1.75" fill="#2fb844"/>
<circle cx="276.9" cy="261.9" r="1.75" fill="#2fb844"/>
<circle cx="276.9" cy="282.1" r="1.75" fill="#2fb844"/>
<line x1="302.4" y1="304.7" x2="302.4" y2="311.5" stroke="#231f20" stroke-width="1.1"/>
<line x1="298.1" y1="304.7" x2="306.7" y2="304.7" stroke="#231f20" stroke-width="1.1"/>
<circle cx="302.4" cy="298.9" r="1.75" fill="#55186b"/>
<circle cx="302.4" cy="313.3" r="1.75" fill="#55186b"/>
<circle cx="302.4" cy="320.9" r="1.75" fill="#55186b"/>
<polygon points="302.9,289.06 303.37,290.15 304.56,290.26 303.67,291.05 303.92,292.21 302.9,291.61 301.88,292.21 302.13,291.05 301.24,290.26 302.43,290.15" fill="#231f20"/>
<circle cx="320.4" cy="320.9" r="1.75" fill="#ff8b00"/>
<circle cx="325.4" cy="320.9" r="1.75" fill="#ff8b00"/>
<circle cx="330.8" cy="320.9" r="1.75" fill="#ff8b00"/>
<polygon points="327.4,304.36 327.87,305.45 329.06,305.56 328.17,306.35 328.42,307.51 327.4,306.91 326.38,307.51 326.63,306.35 325.74,305.56 326.93,305.45" fill="#231f20"/>
<text x="226.5" y="331.6" font-size="8.85" text-anchor="middle" textLength="32" lengthAdjust="spacingAndGlyphs">Untreated</text>
<text x="251.5" y="331.6" font-size="8.85" text-anchor="middle" textLength="4" lengthAdjust="spacingAndGlyphs">3</text>
<text x="277" y="331.6" font-size="8.85" text-anchor="middle" textLength="9.6" lengthAdjust="spacingAndGlyphs">0.3</text>
<text x="302.4" y="331.6" font-size="8.85" text-anchor="middle" textLength="4" lengthAdjust="spacingAndGlyphs">1</text>
<text x="325.6" y="331.6" font-size="8.85" text-anchor="middle" textLength="4" lengthAdjust="spacingAndGlyphs">3</text>
<text x="332.8" y="329.4" font-size="7" textLength="18.8" lengthAdjust="spacingAndGlyphs" style="stroke-width:0.12px">mg/kg</text>
<line x1="269.6" y1="334.9" x2="332.8" y2="334.9" stroke="#231f20" stroke-width="1.1"/>
<text x="251.5" y="344.5" font-size="8.85" text-anchor="middle" textLength="42.4" lengthAdjust="spacingAndGlyphs">Isotype-ADC</text>
<text x="301.2" y="344.5" font-size="8.85" text-anchor="middle" textLength="37.2" lengthAdjust="spacingAndGlyphs">CD45-ADC</text>
<text x="0" y="0" font-size="9.36" text-anchor="middle" transform="translate(183.3 276.9) rotate(-90)" textLength="45.2" lengthAdjust="spacingAndGlyphs" style="stroke-width:0.16px">ST-HSCs/Femur</text>
<line x1="373.7" y1="234" x2="373.7" y2="321.1" stroke="#231f20" stroke-width="1.2"/>
<line x1="370.5" y1="320.5" x2="373.7" y2="320.5" stroke="#231f20" stroke-width="1"/>
<text x="368.9" y="323.4" font-size="8.85" text-anchor="end" textLength="4.22" lengthAdjust="spacingAndGlyphs">0</text>
<line x1="370.5" y1="308.5" x2="373.7" y2="308.5" stroke="#231f20" stroke-width="1"/>
<text x="368.9" y="311.4" font-size="8.85" text-anchor="end" textLength="12.66" lengthAdjust="spacingAndGlyphs">500</text>
<line x1="370.5" y1="296.5" x2="373.7" y2="296.5" stroke="#231f20" stroke-width="1"/>
<text x="368.9" y="299.4" font-size="8.85" text-anchor="end" textLength="16.88" lengthAdjust="spacingAndGlyphs">1000</text>
<line x1="370.5" y1="284.5" x2="373.7" y2="284.5" stroke="#231f20" stroke-width="1"/>
<text x="368.9" y="287.4" font-size="8.85" text-anchor="end" textLength="16.88" lengthAdjust="spacingAndGlyphs">1500</text>
<line x1="370.5" y1="272.5" x2="373.7" y2="272.5" stroke="#231f20" stroke-width="1"/>
<text x="368.9" y="275.4" font-size="8.85" text-anchor="end" textLength="16.88" lengthAdjust="spacingAndGlyphs">2000</text>
<line x1="370.5" y1="260.5" x2="373.7" y2="260.5" stroke="#231f20" stroke-width="1"/>
<text x="368.9" y="263.4" font-size="8.85" text-anchor="end" textLength="16.88" lengthAdjust="spacingAndGlyphs">2500</text>
<line x1="370.5" y1="248.5" x2="373.7" y2="248.5" stroke="#231f20" stroke-width="1"/>
<text x="368.9" y="251.4" font-size="8.85" text-anchor="end" textLength="16.88" lengthAdjust="spacingAndGlyphs">3000</text>
<line x1="370.5" y1="236.5" x2="373.7" y2="236.5" stroke="#231f20" stroke-width="1"/>
<text x="368.9" y="239.4" font-size="8.85" text-anchor="end" textLength="16.88" lengthAdjust="spacingAndGlyphs">3500</text>
<rect x="382.4" y="263.8" width="16" height="56.7" fill="#de8797" stroke="#d97489" stroke-width="0.8"/>
<rect x="408.2" y="308.8" width="16" height="11.7" fill="#8aa8c6" stroke="#7c9dbf" stroke-width="0.8"/>
<rect x="433.6" y="273.5" width="16" height="47" fill="#9cd9a3" stroke="#8ed197" stroke-width="0.8"/>
<rect x="459.1" y="309.7" width="15.4" height="10.8" fill="#ab92b8" stroke="#a086b0" stroke-width="0.8"/>
<line x1="373.1" y1="320.5" x2="499.5" y2="320.5" stroke="#231f20" stroke-width="1.3"/>
<line x1="390.4" y1="320.5" x2="390.4" y2="323.5" stroke="#231f20" stroke-width="1"/>
<line x1="416.2" y1="320.5" x2="416.2" y2="323.5" stroke="#231f20" stroke-width="1"/>
<line x1="441.6" y1="320.5" x2="441.6" y2="323.5" stroke="#231f20" stroke-width="1"/>
<line x1="466.8" y1="320.5" x2="466.8" y2="323.5" stroke="#231f20" stroke-width="1"/>
<line x1="489.6" y1="320.5" x2="489.6" y2="323.5" stroke="#231f20" stroke-width="1"/>
<line x1="390.4" y1="253.8" x2="390.4" y2="263.4" stroke="#231f20" stroke-width="1.1"/>
<line x1="386.1" y1="253.8" x2="394.7" y2="253.8" stroke="#231f20" stroke-width="1.1"/>
<circle cx="390.5" cy="245.1" r="1.75" fill="#c8102e"/>
<circle cx="393.2" cy="270.9" r="1.75" fill="#c8102e"/>
<circle cx="388.1" cy="274.4" r="1.75" fill="#c8102e"/>
<line x1="416.2" y1="306.5" x2="416.2" y2="308.4" stroke="#231f20" stroke-width="1.1"/>
<line x1="411.9" y1="306.5" x2="420.5" y2="306.5" stroke="#231f20" stroke-width="1.1"/>
<circle cx="411.2" cy="306.3" r="1.75" fill="#0b4a8b"/>
<circle cx="421.6" cy="308.8" r="1.75" fill="#0b4a8b"/>
<circle cx="416.3" cy="310" r="1.75" fill="#0b4a8b"/>
<polygon points="416.5,289.66 416.97,290.75 418.16,290.86 417.27,291.65 417.52,292.81 416.5,292.21 415.48,292.81 415.73,291.65 414.84,290.86 416.03,290.75" fill="#231f20"/>
<line x1="441.6" y1="266" x2="441.6" y2="273.1" stroke="#231f20" stroke-width="1.1"/>
<line x1="437.3" y1="266" x2="445.9" y2="266" stroke="#231f20" stroke-width="1.1"/>
<circle cx="439" cy="263" r="1.75" fill="#2fb844"/>
<circle cx="443.5" cy="269.3" r="1.75" fill="#2fb844"/>
<circle cx="441.3" cy="286.6" r="1.75" fill="#2fb844"/>
<line x1="466.8" y1="302.3" x2="466.8" y2="309.3" stroke="#231f20" stroke-width="1.1"/>
<line x1="462.5" y1="302.3" x2="471.1" y2="302.3" stroke="#231f20" stroke-width="1.1"/>
<circle cx="466.8" cy="295.8" r="1.75" fill="#55186b"/>
<circle cx="464.1" cy="315.8" r="1.75" fill="#55186b"/>
<circle cx="469.8" cy="315.4" r="1.75" fill="#55186b"/>
<polygon points="467.5,286.66 467.97,287.75 469.16,287.86 468.27,288.65 468.52,289.81 467.5,289.21 466.48,289.81 466.73,288.65 465.84,287.86 467.03,287.75" fill="#231f20"/>
<circle cx="483.9" cy="320.9" r="1.75" fill="#ff8b00"/>
<circle cx="489" cy="320.9" r="1.75" fill="#ff8b00"/>
<circle cx="494" cy="320.9" r="1.75" fill="#ff8b00"/>
<polygon points="490.6,304.16 491.07,305.25 492.26,305.36 491.37,306.15 491.62,307.31 490.6,306.71 489.58,307.31 489.83,306.15 488.94,305.36 490.13,305.25" fill="#231f20"/>
<text x="390.4" y="331.6" font-size="8.85" text-anchor="middle" textLength="32" lengthAdjust="spacingAndGlyphs">Untreated</text>
<text x="416.2" y="331.6" font-size="8.85" text-anchor="middle" textLength="4" lengthAdjust="spacingAndGlyphs">3</text>
<text x="441.6" y="331.6" font-size="8.85" text-anchor="middle" textLength="9.6" lengthAdjust="spacingAndGlyphs">0.3</text>
<text x="466.8" y="331.6" font-size="8.85" text-anchor="middle" textLength="4" lengthAdjust="spacingAndGlyphs">1</text>
<text x="489.6" y="331.6" font-size="8.85" text-anchor="middle" textLength="4" lengthAdjust="spacingAndGlyphs">3</text>
<text x="496.8" y="329.4" font-size="7" textLength="18.8" lengthAdjust="spacingAndGlyphs" style="stroke-width:0.12px">mg/kg</text>
<line x1="434" y1="335" x2="497.8" y2="335" stroke="#231f20" stroke-width="1.1"/>
<text x="416.2" y="344.6" font-size="8.85" text-anchor="middle" textLength="42.4" lengthAdjust="spacingAndGlyphs">Isotype-ADC</text>
<text x="465.9" y="344.6" font-size="8.85" text-anchor="middle" textLength="37.2" lengthAdjust="spacingAndGlyphs">CD45-ADC</text>
<text x="0" y="0" font-size="9.36" text-anchor="middle" transform="translate(348.3 277.35) rotate(-90)" textLength="44.3" lengthAdjust="spacingAndGlyphs" style="stroke-width:0.16px">LT-HSCs/Femur</text>
<line x1="37.6" y1="377.6" x2="37.6" y2="469.5" stroke="#231f20" stroke-width="1.2"/>
<line x1="34.4" y1="468.9" x2="37.6" y2="468.9" stroke="#231f20" stroke-width="1"/>
<text x="32.8" y="471.8" font-size="8.85" text-anchor="end" textLength="4.22" lengthAdjust="spacingAndGlyphs">0</text>
<line x1="34.4" y1="447" x2="37.6" y2="447" stroke="#231f20" stroke-width="1"/>
<text x="32.8" y="449.9" font-size="8.85" text-anchor="end" textLength="4.22" lengthAdjust="spacingAndGlyphs">5</text>
<line x1="34.4" y1="425.1" x2="37.6" y2="425.1" stroke="#231f20" stroke-width="1"/>
<text x="32.8" y="428" font-size="8.85" text-anchor="end" textLength="8.44" lengthAdjust="spacingAndGlyphs">10</text>
<line x1="34.4" y1="403.2" x2="37.6" y2="403.2" stroke="#231f20" stroke-width="1"/>
<text x="32.8" y="406.1" font-size="8.85" text-anchor="end" textLength="8.44" lengthAdjust="spacingAndGlyphs">15</text>
<line x1="34.4" y1="381.3" x2="37.6" y2="381.3" stroke="#231f20" stroke-width="1"/>
<text x="32.8" y="384.2" font-size="8.85" text-anchor="end" textLength="8.44" lengthAdjust="spacingAndGlyphs">20</text>
<rect x="46.5" y="405.5" width="17.1" height="63.4" fill="#de8797" stroke="#d97489" stroke-width="0.8"/>
<rect x="73.3" y="446.8" width="16.5" height="22.1" fill="#8aa8c6" stroke="#7c9dbf" stroke-width="0.8"/>
<rect x="99.5" y="414.3" width="16.9" height="54.6" fill="#9cd9a3" stroke="#8ed197" stroke-width="0.8"/>
<rect x="126.1" y="438.9" width="16.6" height="30" fill="#ab92b8" stroke="#a086b0" stroke-width="0.8"/>
<rect x="152.4" y="449.4" width="17.2" height="19.5" fill="#ffc67f" stroke="#fdbc6f" stroke-width="0.8"/>
<line x1="37" y1="468.9" x2="178.8" y2="468.9" stroke="#231f20" stroke-width="1.3"/>
<line x1="55.05" y1="468.9" x2="55.05" y2="471.9" stroke="#231f20" stroke-width="1"/>
<line x1="81.55" y1="468.9" x2="81.55" y2="471.9" stroke="#231f20" stroke-width="1"/>
<line x1="107.95" y1="468.9" x2="107.95" y2="471.9" stroke="#231f20" stroke-width="1"/>
<line x1="134.4" y1="468.9" x2="134.4" y2="471.9" stroke="#231f20" stroke-width="1"/>
<line x1="161" y1="468.9" x2="161" y2="471.9" stroke="#231f20" stroke-width="1"/>
<line x1="55.05" y1="397.4" x2="55.05" y2="405.1" stroke="#231f20" stroke-width="1.1"/>
<line x1="50.75" y1="397.4" x2="59.35" y2="397.4" stroke="#231f20" stroke-width="1.1"/>
<circle cx="52.4" cy="396.2" r="1.75" fill="#c8102e"/>
<circle cx="57.5" cy="399.9" r="1.75" fill="#c8102e"/>
<circle cx="54.8" cy="419.4" r="1.75" fill="#c8102e"/>
<line x1="81.55" y1="443.3" x2="81.55" y2="446.4" stroke="#231f20" stroke-width="1.1"/>
<line x1="77.25" y1="443.3" x2="85.85" y2="443.3" stroke="#231f20" stroke-width="1.1"/>
<circle cx="81.5" cy="442.2" r="1.75" fill="#0b4a8b"/>
<circle cx="84.1" cy="445.3" r="1.75" fill="#0b4a8b"/>
<circle cx="77.8" cy="449.5" r="1.75" fill="#0b4a8b"/>
<polygon points="81.5,419.85 82.06,421.13 83.45,421.27 82.4,422.19 82.7,423.56 81.5,422.85 80.3,423.56 80.6,422.19 79.55,421.27 80.94,421.13" fill="#231f20"/>
<line x1="107.95" y1="406.7" x2="107.95" y2="413.9" stroke="#231f20" stroke-width="1.1"/>
<line x1="103.65" y1="406.7" x2="112.25" y2="406.7" stroke="#231f20" stroke-width="1.1"/>
<circle cx="108" cy="403.5" r="1.75" fill="#2fb844"/>
<circle cx="108" cy="410.6" r="1.75" fill="#2fb844"/>
<circle cx="108" cy="427.2" r="1.75" fill="#2fb844"/>
<line x1="134.4" y1="436.4" x2="134.4" y2="438.5" stroke="#231f20" stroke-width="1.1"/>
<line x1="130.1" y1="436.4" x2="138.7" y2="436.4" stroke="#231f20" stroke-width="1.1"/>
<circle cx="128.9" cy="436.2" r="1.75" fill="#55186b"/>
<circle cx="139.4" cy="436.2" r="1.75" fill="#55186b"/>
<circle cx="134.6" cy="442.5" r="1.75" fill="#55186b"/>
<polygon points="135.7,418.45 136.26,419.73 137.65,419.87 136.6,420.79 136.9,422.16 135.7,421.45 134.5,422.16 134.8,420.79 133.75,419.87 135.14,419.73" fill="#231f20"/>
<line x1="161" y1="446.3" x2="161" y2="449" stroke="#231f20" stroke-width="1.1"/>
<line x1="156.7" y1="446.3" x2="165.3" y2="446.3" stroke="#231f20" stroke-width="1.1"/>
<circle cx="161" cy="443.6" r="1.75" fill="#ff8b00"/>
<circle cx="163.7" cy="450.6" r="1.75" fill="#ff8b00"/>
<circle cx="158.3" cy="453.3" r="1.75" fill="#ff8b00"/>
<polygon points="161.9,428.95 162.46,430.23 163.85,430.37 162.8,431.29 163.1,432.66 161.9,431.95 160.7,432.66 161,431.29 159.95,430.37 161.34,430.23" fill="#231f20"/>
<text x="55.05" y="479.6" font-size="8.85" text-anchor="middle" textLength="33.8" lengthAdjust="spacingAndGlyphs">Untreated</text>
<text x="81.55" y="479.6" font-size="8.85" text-anchor="middle" textLength="4" lengthAdjust="spacingAndGlyphs">3</text>
<text x="107.95" y="479.6" font-size="8.85" text-anchor="middle" textLength="9.6" lengthAdjust="spacingAndGlyphs">0.3</text>
<text x="134.4" y="479.6" font-size="8.85" text-anchor="middle" textLength="4" lengthAdjust="spacingAndGlyphs">1</text>
<text x="161" y="479.6" font-size="8.85" text-anchor="middle" textLength="4" lengthAdjust="spacingAndGlyphs">3</text>
<text x="169.2" y="478.1" font-size="7" textLength="18.8" lengthAdjust="spacingAndGlyphs" style="stroke-width:0.12px" font-style="italic">mg/kg</text>
<line x1="99.2" y1="483.1" x2="167.1" y2="483.1" stroke="#231f20" stroke-width="1.1"/>
<text x="81.55" y="492.7" font-size="8.85" text-anchor="middle" textLength="42.4" lengthAdjust="spacingAndGlyphs">Isotype-ADC</text>
<text x="133.15" y="492.7" font-size="8.85" text-anchor="middle" textLength="37.2" lengthAdjust="spacingAndGlyphs">CD45-ADC</text>
<text x="0" y="0" font-size="9.01" text-anchor="middle" transform="translate(15.2 423.05) rotate(-90)" textLength="62.9" lengthAdjust="spacingAndGlyphs" style="stroke-width:0.16px">WBC (10<tspan dy="-2.2" font-size="7.2">3</tspan><tspan dy="2.2"> cells/μL)</tspan></text>
<line x1="273.8" y1="378.5" x2="273.8" y2="470" stroke="#231f20" stroke-width="1.2"/>
<line x1="270.6" y1="469.4" x2="273.8" y2="469.4" stroke="#231f20" stroke-width="1"/>
<text x="269" y="472.3" font-size="8.85" text-anchor="end" textLength="4.22" lengthAdjust="spacingAndGlyphs">0</text>
<line x1="270.6" y1="440.27" x2="273.8" y2="440.27" stroke="#231f20" stroke-width="1"/>
<text x="269" y="443.17" font-size="8.85" text-anchor="end" textLength="4.22" lengthAdjust="spacingAndGlyphs">2</text>
<line x1="270.6" y1="411.14" x2="273.8" y2="411.14" stroke="#231f20" stroke-width="1"/>
<text x="269" y="414.04" font-size="8.85" text-anchor="end" textLength="4.22" lengthAdjust="spacingAndGlyphs">4</text>
<line x1="270.6" y1="382.01" x2="273.8" y2="382.01" stroke="#231f20" stroke-width="1"/>
<text x="269" y="384.91" font-size="8.85" text-anchor="end" textLength="4.22" lengthAdjust="spacingAndGlyphs">6</text>
<rect x="283.5" y="399.4" width="17.1" height="70" fill="#de8797" stroke="#d97489" stroke-width="0.8"/>
<rect x="310.2" y="433.8" width="17" height="35.6" fill="#8aa8c6" stroke="#7c9dbf" stroke-width="0.8"/>
<rect x="336.7" y="413.4" width="17" height="56" fill="#9cd9a3" stroke="#8ed197" stroke-width="0.8"/>
<rect x="363.7" y="434.4" width="16.7" height="35" fill="#ab92b8" stroke="#a086b0" stroke-width="0.8"/>
<rect x="390.7" y="442.4" width="16.7" height="27" fill="#ffc67f" stroke="#fdbc6f" stroke-width="0.8"/>
<line x1="273.2" y1="469.4" x2="416.9" y2="469.4" stroke="#231f20" stroke-width="1.3"/>
<line x1="292.05" y1="469.4" x2="292.05" y2="472.4" stroke="#231f20" stroke-width="1"/>
<line x1="318.7" y1="469.4" x2="318.7" y2="472.4" stroke="#231f20" stroke-width="1"/>
<line x1="345.2" y1="469.4" x2="345.2" y2="472.4" stroke="#231f20" stroke-width="1"/>
<line x1="372.05" y1="469.4" x2="372.05" y2="472.4" stroke="#231f20" stroke-width="1"/>
<line x1="399.05" y1="469.4" x2="399.05" y2="472.4" stroke="#231f20" stroke-width="1"/>
<line x1="292.05" y1="391.1" x2="292.05" y2="399" stroke="#231f20" stroke-width="1.1"/>
<line x1="287.75" y1="391.1" x2="296.35" y2="391.1" stroke="#231f20" stroke-width="1.1"/>
<circle cx="289.1" cy="390.8" r="1.75" fill="#c8102e"/>
<circle cx="295.4" cy="392" r="1.75" fill="#c8102e"/>
<circle cx="291.9" cy="413.7" r="1.75" fill="#c8102e"/>
<line x1="318.7" y1="429.4" x2="318.7" y2="433.4" stroke="#231f20" stroke-width="1.1"/>
<line x1="314.4" y1="429.4" x2="323" y2="429.4" stroke="#231f20" stroke-width="1.1"/>
<circle cx="315.9" cy="427.1" r="1.75" fill="#0b4a8b"/>
<circle cx="321.1" cy="432.5" r="1.75" fill="#0b4a8b"/>
<circle cx="318.6" cy="441.2" r="1.75" fill="#0b4a8b"/>
<polygon points="319.1,414.05 319.66,415.33 321.05,415.47 320,416.39 320.3,417.76 319.1,417.05 317.9,417.76 318.2,416.39 317.15,415.47 318.54,415.33" fill="#231f20"/>
<line x1="345.2" y1="403.3" x2="345.2" y2="413" stroke="#231f20" stroke-width="1.1"/>
<line x1="340.9" y1="403.3" x2="349.5" y2="403.3" stroke="#231f20" stroke-width="1.1"/>
<circle cx="345.1" cy="396.8" r="1.75" fill="#2fb844"/>
<circle cx="345.1" cy="413" r="1.75" fill="#2fb844"/>
<circle cx="345.1" cy="429.5" r="1.75" fill="#2fb844"/>
<line x1="372.05" y1="430.7" x2="372.05" y2="434" stroke="#231f20" stroke-width="1.1"/>
<line x1="367.75" y1="430.7" x2="376.35" y2="430.7" stroke="#231f20" stroke-width="1.1"/>
<circle cx="369.1" cy="429.9" r="1.75" fill="#55186b"/>
<circle cx="374.9" cy="431" r="1.75" fill="#55186b"/>
<circle cx="371.8" cy="439.7" r="1.75" fill="#55186b"/>
<polygon points="372.5,413.65 373.06,414.93 374.45,415.07 373.4,415.99 373.7,417.36 372.5,416.65 371.3,417.36 371.6,415.99 370.55,415.07 371.94,414.93" fill="#231f20"/>
<line x1="399.05" y1="437" x2="399.05" y2="442" stroke="#231f20" stroke-width="1.1"/>
<line x1="394.75" y1="437" x2="403.35" y2="437" stroke="#231f20" stroke-width="1.1"/>
<circle cx="398.7" cy="433" r="1.75" fill="#ff8b00"/>
<circle cx="401.4" cy="444.8" r="1.75" fill="#ff8b00"/>
<circle cx="396" cy="447.4" r="1.75" fill="#ff8b00"/>
<polygon points="399.4,421.25 399.96,422.53 401.35,422.67 400.3,423.59 400.6,424.96 399.4,424.25 398.2,424.96 398.5,423.59 397.45,422.67 398.84,422.53" fill="#231f20"/>
<text x="289.4" y="480.1" font-size="8.85" text-anchor="middle" textLength="33.8" lengthAdjust="spacingAndGlyphs">Untreated</text>
<text x="318.7" y="480.1" font-size="8.85" text-anchor="middle" textLength="4" lengthAdjust="spacingAndGlyphs">3</text>
<text x="345.2" y="480.1" font-size="8.85" text-anchor="middle" textLength="9.6" lengthAdjust="spacingAndGlyphs">0.3</text>
<text x="372.05" y="480.1" font-size="8.85" text-anchor="middle" textLength="4" lengthAdjust="spacingAndGlyphs">1</text>
<text x="399.05" y="480.1" font-size="8.85" text-anchor="middle" textLength="4" lengthAdjust="spacingAndGlyphs">3</text>
<text x="413.6" y="477.7" font-size="7" textLength="18.8" lengthAdjust="spacingAndGlyphs" style="stroke-width:0.12px">mg/kg</text>
<line x1="336.8" y1="483.5" x2="404.3" y2="483.5" stroke="#231f20" stroke-width="1.1"/>
<text x="318.7" y="493.1" font-size="8.85" text-anchor="middle" textLength="42.4" lengthAdjust="spacingAndGlyphs">Isotype-ADC</text>
<text x="370.55" y="493.1" font-size="8.85" text-anchor="middle" textLength="37.2" lengthAdjust="spacingAndGlyphs">CD45-ADC</text>
<text x="0" y="0" font-size="9.01" text-anchor="middle" transform="translate(258.9 424.1) rotate(-90)" textLength="76.6" lengthAdjust="spacingAndGlyphs" style="stroke-width:0.16px">Neutrophils (10<tspan dy="-2.2" font-size="7.2">3</tspan><tspan dy="2.2"> cells/μL)</tspan></text>
<line x1="34.3" y1="506.4" x2="34.3" y2="594" stroke="#231f20" stroke-width="1.2"/>
<line x1="31.1" y1="593.4" x2="34.3" y2="593.4" stroke="#231f20" stroke-width="1"/>
<text x="29.5" y="596.3" font-size="8.85" text-anchor="end" textLength="4.22" lengthAdjust="spacingAndGlyphs">0</text>
<line x1="31.1" y1="572.25" x2="34.3" y2="572.25" stroke="#231f20" stroke-width="1"/>
<text x="29.5" y="575.15" font-size="8.85" text-anchor="end" textLength="4.22" lengthAdjust="spacingAndGlyphs">2</text>
<line x1="31.1" y1="551.1" x2="34.3" y2="551.1" stroke="#231f20" stroke-width="1"/>
<text x="29.5" y="554" font-size="8.85" text-anchor="end" textLength="4.22" lengthAdjust="spacingAndGlyphs">4</text>
<line x1="31.1" y1="529.95" x2="34.3" y2="529.95" stroke="#231f20" stroke-width="1"/>
<text x="29.5" y="532.85" font-size="8.85" text-anchor="end" textLength="4.22" lengthAdjust="spacingAndGlyphs">6</text>
<line x1="31.1" y1="508.8" x2="34.3" y2="508.8" stroke="#231f20" stroke-width="1"/>
<text x="29.5" y="511.7" font-size="8.85" text-anchor="end" textLength="4.22" lengthAdjust="spacingAndGlyphs">8</text>
<rect x="44" y="537.6" width="16.7" height="55.8" fill="#de8797" stroke="#d97489" stroke-width="0.8"/>
<rect x="70.3" y="575.7" width="17.5" height="17.7" fill="#8aa8c6" stroke="#7c9dbf" stroke-width="0.8"/>
<rect x="97.6" y="541.4" width="16.8" height="52" fill="#9cd9a3" stroke="#8ed197" stroke-width="0.8"/>
<rect x="124.4" y="559.7" width="16.9" height="33.7" fill="#ab92b8" stroke="#a086b0" stroke-width="0.8"/>
<rect x="151.3" y="570.5" width="16.9" height="22.9" fill="#ffc67f" stroke="#fdbc6f" stroke-width="0.8"/>
<line x1="33.7" y1="593.4" x2="177.2" y2="593.4" stroke="#231f20" stroke-width="1.3"/>
<line x1="52.35" y1="593.4" x2="52.35" y2="596.4" stroke="#231f20" stroke-width="1"/>
<line x1="79.05" y1="593.4" x2="79.05" y2="596.4" stroke="#231f20" stroke-width="1"/>
<line x1="106" y1="593.4" x2="106" y2="596.4" stroke="#231f20" stroke-width="1"/>
<line x1="132.85" y1="593.4" x2="132.85" y2="596.4" stroke="#231f20" stroke-width="1"/>
<line x1="159.75" y1="593.4" x2="159.75" y2="596.4" stroke="#231f20" stroke-width="1"/>
<line x1="52.35" y1="531.3" x2="52.35" y2="537.2" stroke="#231f20" stroke-width="1.1"/>
<line x1="48.05" y1="531.3" x2="56.65" y2="531.3" stroke="#231f20" stroke-width="1.1"/>
<circle cx="52.4" cy="527.9" r="1.75" fill="#c8102e"/>
<circle cx="52.4" cy="535.6" r="1.75" fill="#c8102e"/>
<circle cx="52.4" cy="547" r="1.75" fill="#c8102e"/>
<line x1="79.05" y1="573.3" x2="79.05" y2="575.3" stroke="#231f20" stroke-width="1.1"/>
<line x1="74.75" y1="573.3" x2="83.35" y2="573.3" stroke="#231f20" stroke-width="1.1"/>
<circle cx="73.9" cy="572.9" r="1.75" fill="#0b4a8b"/>
<circle cx="84.7" cy="573.5" r="1.75" fill="#0b4a8b"/>
<circle cx="79.3" cy="578.6" r="1.75" fill="#0b4a8b"/>
<polygon points="79.3,556.85 79.86,558.13 81.25,558.27 80.2,559.19 80.5,560.56 79.3,559.85 78.1,560.56 78.4,559.19 77.35,558.27 78.74,558.13" fill="#231f20"/>
<line x1="106" y1="535.4" x2="106" y2="541" stroke="#231f20" stroke-width="1.1"/>
<line x1="101.7" y1="535.4" x2="110.3" y2="535.4" stroke="#231f20" stroke-width="1.1"/>
<circle cx="105.8" cy="532.5" r="1.75" fill="#2fb844"/>
<circle cx="105.8" cy="539.4" r="1.75" fill="#2fb844"/>
<circle cx="105.8" cy="550.6" r="1.75" fill="#2fb844"/>
<line x1="132.85" y1="557.3" x2="132.85" y2="559.3" stroke="#231f20" stroke-width="1.1"/>
<line x1="128.55" y1="557.3" x2="137.15" y2="557.3" stroke="#231f20" stroke-width="1.1"/>
<circle cx="127.3" cy="555.9" r="1.75" fill="#55186b"/>
<circle cx="138.1" cy="559.4" r="1.75" fill="#55186b"/>
<circle cx="132.6" cy="562.4" r="1.75" fill="#55186b"/>
<polygon points="133.2,539.45 133.76,540.73 135.15,540.87 134.1,541.79 134.4,543.16 133.2,542.45 132,543.16 132.3,541.79 131.25,540.87 132.64,540.73" fill="#231f20"/>
<line x1="159.75" y1="566.7" x2="159.75" y2="570.1" stroke="#231f20" stroke-width="1.1"/>
<line x1="155.45" y1="566.7" x2="164.05" y2="566.7" stroke="#231f20" stroke-width="1.1"/>
<circle cx="159.5" cy="563.7" r="1.75" fill="#ff8b00"/>
<circle cx="162.2" cy="570.9" r="1.75" fill="#ff8b00"/>
<circle cx="156.8" cy="576.1" r="1.75" fill="#ff8b00"/>
<polygon points="160.3,546.85 160.86,548.13 162.25,548.27 161.2,549.19 161.5,550.56 160.3,549.85 159.1,550.56 159.4,549.19 158.35,548.27 159.74,548.13" fill="#231f20"/>
<text x="52.35" y="604.4" font-size="8.85" text-anchor="middle" textLength="33.8" lengthAdjust="spacingAndGlyphs">Untreated</text>
<text x="79.05" y="604.4" font-size="8.85" text-anchor="middle" textLength="4" lengthAdjust="spacingAndGlyphs">3</text>
<text x="106" y="604.4" font-size="8.85" text-anchor="middle" textLength="9.6" lengthAdjust="spacingAndGlyphs">0.3</text>
<text x="132.85" y="604.4" font-size="8.85" text-anchor="middle" textLength="4" lengthAdjust="spacingAndGlyphs">1</text>
<text x="159.75" y="604.4" font-size="8.85" text-anchor="middle" textLength="4" lengthAdjust="spacingAndGlyphs">3</text>
<text x="169.1" y="602.6" font-size="7" textLength="18.8" lengthAdjust="spacingAndGlyphs" style="stroke-width:0.12px">mg/kg</text>
<line x1="98.1" y1="607.6" x2="165.8" y2="607.6" stroke="#231f20" stroke-width="1.1"/>
<text x="79.05" y="617.2" font-size="8.85" text-anchor="middle" textLength="42.4" lengthAdjust="spacingAndGlyphs">Isotype-ADC</text>
<text x="131.95" y="617.2" font-size="8.85" text-anchor="middle" textLength="37.2" lengthAdjust="spacingAndGlyphs">CD45-ADC</text>
<text x="0" y="0" font-size="9.01" text-anchor="middle" transform="translate(15 549.85) rotate(-90)" textLength="88.5" lengthAdjust="spacingAndGlyphs" style="stroke-width:0.16px">Lymphocytes (10<tspan dy="-2.2" font-size="7.2">3</tspan><tspan dy="2.2"> cells/μL)</tspan></text>
<line x1="277.7" y1="502" x2="277.7" y2="592.9" stroke="#231f20" stroke-width="1.2"/>
<line x1="274.5" y1="592.3" x2="277.7" y2="592.3" stroke="#231f20" stroke-width="1"/>
<text x="272.9" y="595.2" font-size="8.85" text-anchor="end" textLength="11.06" lengthAdjust="spacingAndGlyphs">0.0</text>
<line x1="274.5" y1="563.1" x2="277.7" y2="563.1" stroke="#231f20" stroke-width="1"/>
<text x="272.9" y="566" font-size="8.85" text-anchor="end" textLength="11.06" lengthAdjust="spacingAndGlyphs">0.2</text>
<line x1="274.5" y1="533.9" x2="277.7" y2="533.9" stroke="#231f20" stroke-width="1"/>
<text x="272.9" y="536.8" font-size="8.85" text-anchor="end" textLength="11.06" lengthAdjust="spacingAndGlyphs">0.4</text>
<line x1="274.5" y1="504.7" x2="277.7" y2="504.7" stroke="#231f20" stroke-width="1"/>
<text x="272.9" y="507.6" font-size="8.85" text-anchor="end" textLength="11.06" lengthAdjust="spacingAndGlyphs">0.6</text>
<rect x="287.4" y="536.4" width="16.2" height="55.9" fill="#de8797" stroke="#d97489" stroke-width="0.8"/>
<rect x="313.4" y="573.9" width="16.2" height="18.4" fill="#8aa8c6" stroke="#7c9dbf" stroke-width="0.8"/>
<rect x="339.4" y="541.7" width="16.1" height="50.6" fill="#9cd9a3" stroke="#8ed197" stroke-width="0.8"/>
<rect x="365.3" y="572.9" width="16.3" height="19.4" fill="#ab92b8" stroke="#a086b0" stroke-width="0.8"/>
<rect x="391.3" y="580.3" width="16.3" height="12" fill="#ffc67f" stroke="#fdbc6f" stroke-width="0.8"/>
<line x1="277.1" y1="592.3" x2="416.8" y2="592.3" stroke="#231f20" stroke-width="1.3"/>
<line x1="295.5" y1="592.3" x2="295.5" y2="595.3" stroke="#231f20" stroke-width="1"/>
<line x1="321.5" y1="592.3" x2="321.5" y2="595.3" stroke="#231f20" stroke-width="1"/>
<line x1="347.45" y1="592.3" x2="347.45" y2="595.3" stroke="#231f20" stroke-width="1"/>
<line x1="373.45" y1="592.3" x2="373.45" y2="595.3" stroke="#231f20" stroke-width="1"/>
<line x1="399.45" y1="592.3" x2="399.45" y2="595.3" stroke="#231f20" stroke-width="1"/>
<line x1="295.5" y1="527.8" x2="295.5" y2="536" stroke="#231f20" stroke-width="1.1"/>
<line x1="291.2" y1="527.8" x2="299.8" y2="527.8" stroke="#231f20" stroke-width="1.1"/>
<circle cx="295.2" cy="522.8" r="1.75" fill="#c8102e"/>
<circle cx="295.2" cy="535.8" r="1.75" fill="#c8102e"/>
<circle cx="295.2" cy="550.1" r="1.75" fill="#c8102e"/>
<line x1="321.5" y1="569.2" x2="321.5" y2="573.5" stroke="#231f20" stroke-width="1.1"/>
<line x1="317.2" y1="569.2" x2="325.8" y2="569.2" stroke="#231f20" stroke-width="1.1"/>
<circle cx="318.8" cy="567.9" r="1.75" fill="#0b4a8b"/>
<circle cx="323.7" cy="571.2" r="1.75" fill="#0b4a8b"/>
<circle cx="321.5" cy="579.7" r="1.75" fill="#0b4a8b"/>
<polygon points="321.7,551.45 322.26,552.73 323.65,552.87 322.6,553.79 322.9,555.16 321.7,554.45 320.5,555.16 320.8,553.79 319.75,552.87 321.14,552.73" fill="#231f20"/>
<line x1="347.45" y1="530.1" x2="347.45" y2="541.3" stroke="#231f20" stroke-width="1.1"/>
<line x1="343.15" y1="530.1" x2="351.75" y2="530.1" stroke="#231f20" stroke-width="1.1"/>
<circle cx="347.4" cy="519.4" r="1.75" fill="#2fb844"/>
<circle cx="347.4" cy="548.8" r="1.75" fill="#2fb844"/>
<circle cx="347.4" cy="556.7" r="1.75" fill="#2fb844"/>
<line x1="373.45" y1="568.7" x2="373.45" y2="572.5" stroke="#231f20" stroke-width="1.1"/>
<line x1="369.15" y1="568.7" x2="377.75" y2="568.7" stroke="#231f20" stroke-width="1.1"/>
<circle cx="370.7" cy="567.4" r="1.75" fill="#55186b"/>
<circle cx="376.1" cy="570.5" r="1.75" fill="#55186b"/>
<circle cx="373.4" cy="579.2" r="1.75" fill="#55186b"/>
<polygon points="373.9,547.35 374.46,548.63 375.85,548.77 374.8,549.69 375.1,551.06 373.9,550.35 372.7,551.06 373,549.69 371.95,548.77 373.34,548.63" fill="#231f20"/>
<line x1="399.45" y1="577.9" x2="399.45" y2="579.9" stroke="#231f20" stroke-width="1.1"/>
<line x1="395.15" y1="577.9" x2="403.75" y2="577.9" stroke="#231f20" stroke-width="1.1"/>
<circle cx="393.8" cy="576.5" r="1.75" fill="#ff8b00"/>
<circle cx="399.2" cy="581.6" r="1.75" fill="#ff8b00"/>
<circle cx="404.3" cy="580.8" r="1.75" fill="#ff8b00"/>
<polygon points="400.2,554.85 400.76,556.13 402.15,556.27 401.1,557.19 401.4,558.56 400.2,557.85 399,558.56 399.3,557.19 398.25,556.27 399.64,556.13" fill="#231f20"/>
<text x="295.5" y="604.7" font-size="8.85" text-anchor="middle" textLength="33.8" lengthAdjust="spacingAndGlyphs">Untreated</text>
<text x="321.5" y="604.7" font-size="8.85" text-anchor="middle" textLength="4" lengthAdjust="spacingAndGlyphs">3</text>
<text x="347.45" y="604.7" font-size="8.85" text-anchor="middle" textLength="9.6" lengthAdjust="spacingAndGlyphs">0.3</text>
<text x="373.45" y="604.7" font-size="8.85" text-anchor="middle" textLength="4" lengthAdjust="spacingAndGlyphs">1</text>
<text x="399.45" y="604.7" font-size="8.85" text-anchor="middle" textLength="4" lengthAdjust="spacingAndGlyphs">3</text>
<text x="414.4" y="600.7" font-size="7" textLength="18.8" lengthAdjust="spacingAndGlyphs" style="stroke-width:0.12px">mg/kg</text>
<line x1="341.3" y1="607.9" x2="407" y2="607.9" stroke="#231f20" stroke-width="1.1"/>
<text x="321.5" y="617.5" font-size="8.85" text-anchor="middle" textLength="42.4" lengthAdjust="spacingAndGlyphs">Isotype-ADC</text>
<text x="377.3" y="617.5" font-size="8.85" text-anchor="middle" textLength="37.2" lengthAdjust="spacingAndGlyphs">CD45-ADC</text>
<text x="0" y="0" font-size="9.01" text-anchor="middle" transform="translate(256.2 546.5) rotate(-90)" textLength="73" lengthAdjust="spacingAndGlyphs" style="stroke-width:0.16px">Monocytes (10<tspan dy="-2.2" font-size="7.2">3</tspan><tspan dy="2.2"> cells/μL)</tspan></text>
<rect x="0.5" y="0.5" width="519" height="625" fill="none" stroke="#231f20" stroke-width="1.2"/>
</svg>
</body></html>
